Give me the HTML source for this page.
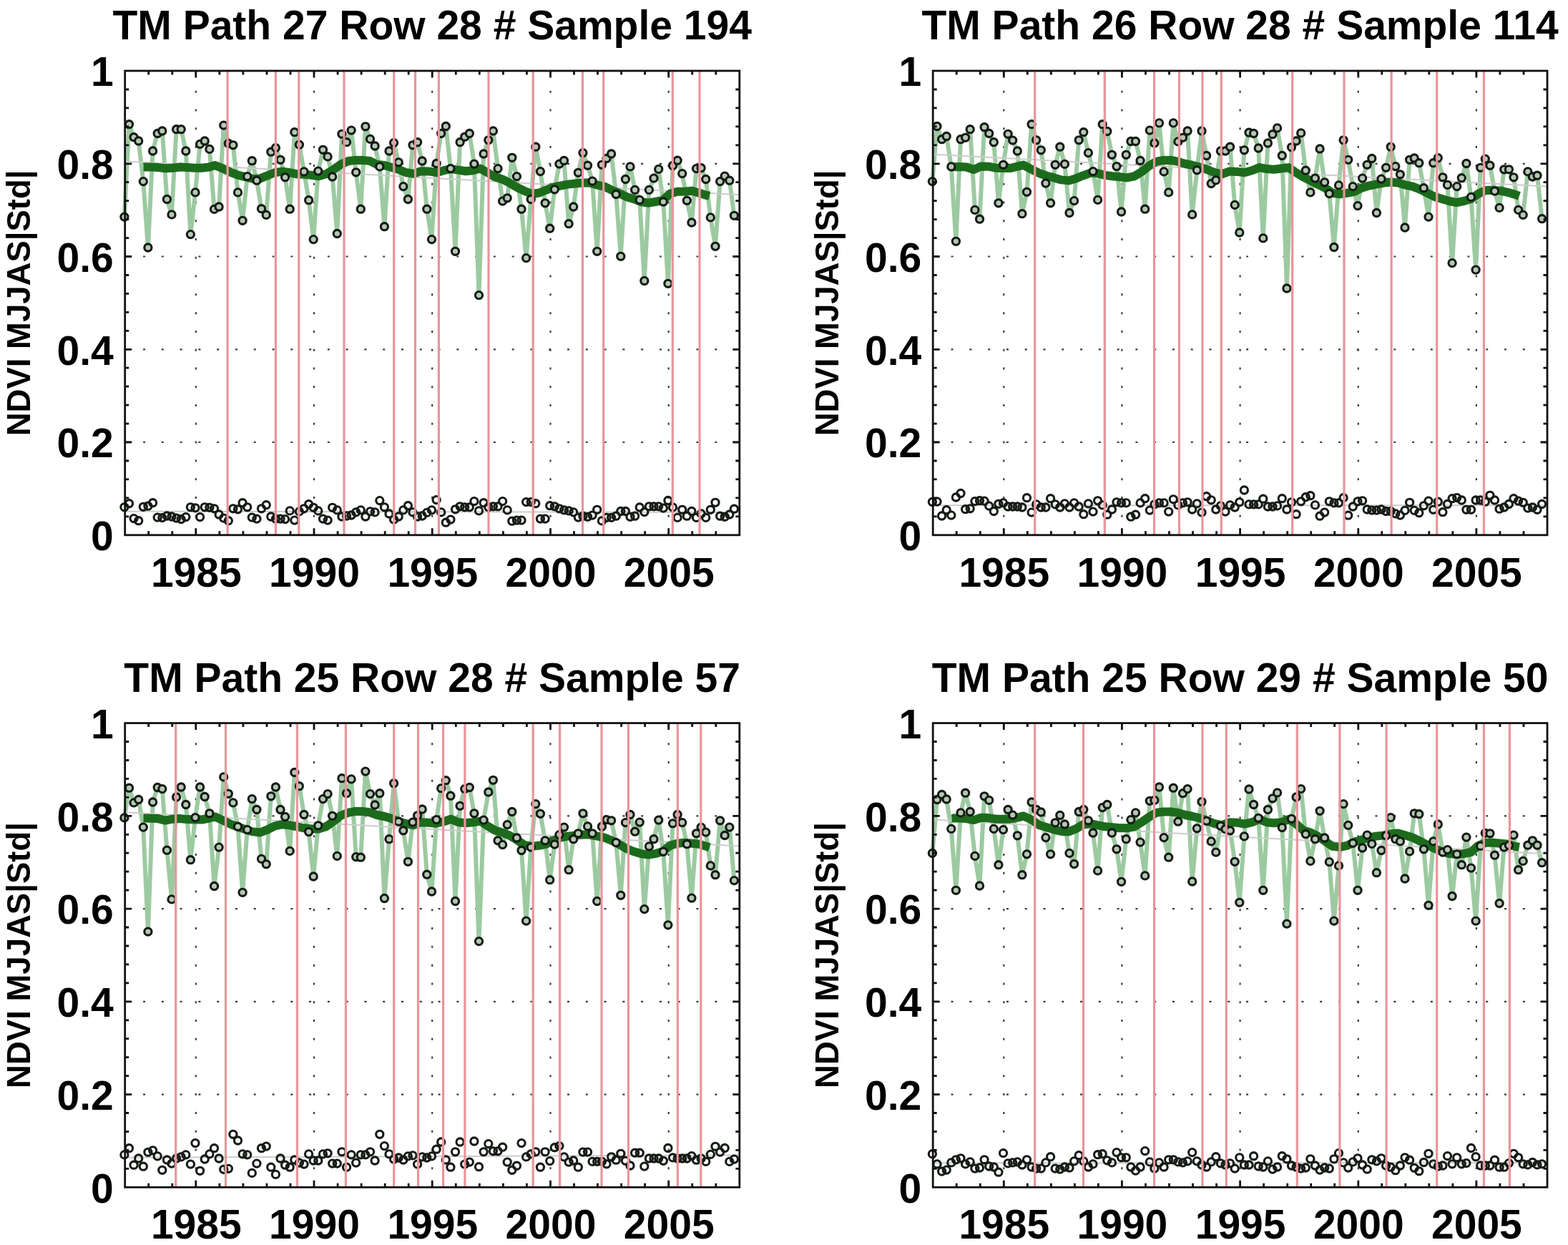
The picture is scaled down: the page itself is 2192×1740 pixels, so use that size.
<!DOCTYPE html>
<html><head><meta charset="utf-8"><title>NDVI MJJAS time series</title>
<style>html,body{margin:0;padding:0;background:#fff;overflow:hidden}svg{display:block;filter:blur(0.45px)}
text{font-family:"Liberation Sans",Arial,Helvetica,sans-serif;font-weight:bold;fill:#000}</style></head>
<body><svg xmlns="http://www.w3.org/2000/svg" width="2192" height="1740" viewBox="0 0 2192 1740">
<rect width="2192" height="1740" fill="#fff"/>
<g stroke="#3a3a3a" stroke-width="2.2" stroke-dasharray="3 22.78" stroke-dashoffset="0.7"><line x1="273.8" y1="747.8" x2="273.8" y2="99.0"/><line x1="439.0" y1="747.8" x2="439.0" y2="99.0"/><line x1="604.2" y1="747.8" x2="604.2" y2="99.0"/><line x1="769.5" y1="747.8" x2="769.5" y2="99.0"/><line x1="934.7" y1="747.8" x2="934.7" y2="99.0"/></g>
<g stroke="#3a3a3a" stroke-width="2.2" stroke-dasharray="3 22.78" stroke-dashoffset="0.4"><line x1="174.7" y1="618.0" x2="1033.8" y2="618.0"/><line x1="174.7" y1="488.3" x2="1033.8" y2="488.3"/><line x1="174.7" y1="358.5" x2="1033.8" y2="358.5"/><line x1="174.7" y1="228.8" x2="1033.8" y2="228.8"/></g>
<polyline points="173.9,303.1 180.5,173.7 187.1,191.7 193.7,197.0 200.3,253.6 206.9,346.0 213.6,211.0 220.2,186.5 226.8,183.0 233.4,278.5 240.0,299.9 246.6,180.7 253.2,180.7 259.8,211.0 266.4,327.6 273.0,268.9 279.6,201.4 286.2,197.0 292.9,208.4 299.5,292.4 306.1,289.0 312.7,175.1 319.3,200.5 325.9,202.8 332.5,268.9 339.1,308.3 345.7,246.6 352.3,224.7 358.9,252.2 365.5,291.7 372.2,300.4 378.8,212.2 385.4,206.6 392.0,223.3 398.6,247.8 405.2,292.2 411.8,184.7 418.4,202.2 425.0,239.9 431.6,279.7 438.2,334.6 444.8,239.1 451.5,209.3 458.1,218.9 464.7,247.0 471.3,326.5 477.9,187.3 484.5,198.7 491.1,182.1 497.7,240.8 504.3,292.2 510.9,176.8 517.5,194.4 524.1,204.0 530.8,232.9 537.4,316.7 544.0,211.0 550.6,199.6 557.2,226.8 563.8,260.6 570.4,278.5 577.0,202.8 583.6,198.7 590.2,225.0 596.8,292.2 603.5,334.6 610.1,228.5 616.7,186.5 623.3,176.5 629.9,235.6 636.5,351.3 643.1,198.7 649.7,191.3 656.3,186.5 662.9,229.1 669.5,412.6 676.1,215.0 682.8,195.8 689.4,183.0 696.0,235.6 702.6,281.1 709.2,276.8 715.8,220.3 722.4,246.6 729.0,292.2 735.6,360.6 742.2,278.5 748.8,205.2 755.4,239.6 762.1,283.8 768.7,319.2 775.3,264.8 781.9,229.1 788.5,224.5 795.1,312.7 801.7,289.0 808.3,241.3 814.9,213.6 821.5,231.2 828.1,253.1 834.7,351.3 841.4,230.3 848.0,221.5 854.6,215.0 861.2,271.5 867.8,358.3 874.4,250.5 881.0,232.9 887.6,265.4 894.2,279.4 900.8,392.5 907.4,265.4 914.0,249.1 920.7,236.4 927.3,282.0 933.9,396.3 940.5,231.5 947.1,224.2 953.7,242.6 960.3,280.3 966.9,311.0 973.5,235.6 980.1,234.7 986.7,250.5 993.3,303.9 1000.0,344.3 1006.6,253.6 1013.2,246.1 1019.8,252.2 1026.4,301.3" fill="none" stroke="#9ccaa0" stroke-width="6" stroke-linejoin="round"/>
<line x1="174.7" y1="225.5" x2="1033.8" y2="272.2" stroke="#cccccc" stroke-width="2"/>
<line x1="174.7" y1="714.7" x2="1033.8" y2="716.0" stroke="#cccccc" stroke-width="2"/>
<polyline points="200.6,233.5 210.8,233.5 221.0,234.1 231.2,235.3 241.4,234.7 251.6,233.5 261.8,234.1 272.0,234.7 282.2,234.7 292.4,233.5 300.6,231.0 312.9,236.1 323.1,241.2 333.3,244.9 343.5,247.3 353.7,250.0 363.9,249.4 374.1,245.3 384.3,241.2 394.5,239.6 404.7,241.2 414.9,243.3 425.1,243.7 435.3,244.9 445.5,246.3 455.7,243.3 465.9,237.1 476.1,230.0 486.3,225.3 496.5,223.9 506.7,223.9 516.9,224.9 527.1,230.0 537.3,231.0 547.6,234.1 557.8,237.1 568.0,241.2 578.2,242.9 588.4,239.2 599.3,239.4 610.2,241.2 620.4,238.2 630.6,236.1 640.8,237.6 651.0,239.2 661.2,238.2 671.4,235.5 681.6,241.2 691.8,247.3 702.0,250.4 712.2,255.5 722.4,261.6 732.7,266.7 742.9,270.8 753.1,269.8 763.3,265.7 773.5,261.6 783.7,259.6 793.9,257.6 804.1,256.5 814.3,255.5 824.5,255.5 834.7,258.6 844.9,260.6 855.1,265.7 865.3,269.8 875.5,274.9 885.7,278.0 895.9,282.0 906.1,283.7 916.3,282.0 926.5,280.0 936.7,270.8 946.9,267.8 957.1,267.8 967.3,266.7 977.6,269.8 987.8,272.9 991.8,273.9" fill="none" stroke="#1c6b1c" stroke-width="12" stroke-linejoin="round" stroke-linecap="butt"/>
<g fill="#b4c8b4" stroke="#151a15" stroke-width="3.1"><circle cx="173.9" cy="303.1" r="5.1"/><circle cx="180.5" cy="173.7" r="5.1"/><circle cx="187.1" cy="191.7" r="5.1"/><circle cx="193.7" cy="197.0" r="5.1"/><circle cx="200.3" cy="253.6" r="5.1"/><circle cx="206.9" cy="346.0" r="5.1"/><circle cx="213.6" cy="211.0" r="5.1"/><circle cx="220.2" cy="186.5" r="5.1"/><circle cx="226.8" cy="183.0" r="5.1"/><circle cx="233.4" cy="278.5" r="5.1"/><circle cx="240.0" cy="299.9" r="5.1"/><circle cx="246.6" cy="180.7" r="5.1"/><circle cx="253.2" cy="180.7" r="5.1"/><circle cx="259.8" cy="211.0" r="5.1"/><circle cx="266.4" cy="327.6" r="5.1"/><circle cx="273.0" cy="268.9" r="5.1"/><circle cx="279.6" cy="201.4" r="5.1"/><circle cx="286.2" cy="197.0" r="5.1"/><circle cx="292.9" cy="208.4" r="5.1"/><circle cx="299.5" cy="292.4" r="5.1"/><circle cx="306.1" cy="289.0" r="5.1"/><circle cx="312.7" cy="175.1" r="5.1"/><circle cx="319.3" cy="200.5" r="5.1"/><circle cx="325.9" cy="202.8" r="5.1"/><circle cx="332.5" cy="268.9" r="5.1"/><circle cx="339.1" cy="308.3" r="5.1"/><circle cx="345.7" cy="246.6" r="5.1"/><circle cx="352.3" cy="224.7" r="5.1"/><circle cx="358.9" cy="252.2" r="5.1"/><circle cx="365.5" cy="291.7" r="5.1"/><circle cx="372.2" cy="300.4" r="5.1"/><circle cx="378.8" cy="212.2" r="5.1"/><circle cx="385.4" cy="206.6" r="5.1"/><circle cx="392.0" cy="223.3" r="5.1"/><circle cx="398.6" cy="247.8" r="5.1"/><circle cx="405.2" cy="292.2" r="5.1"/><circle cx="411.8" cy="184.7" r="5.1"/><circle cx="418.4" cy="202.2" r="5.1"/><circle cx="425.0" cy="239.9" r="5.1"/><circle cx="431.6" cy="279.7" r="5.1"/><circle cx="438.2" cy="334.6" r="5.1"/><circle cx="444.8" cy="239.1" r="5.1"/><circle cx="451.5" cy="209.3" r="5.1"/><circle cx="458.1" cy="218.9" r="5.1"/><circle cx="464.7" cy="247.0" r="5.1"/><circle cx="471.3" cy="326.5" r="5.1"/><circle cx="477.9" cy="187.3" r="5.1"/><circle cx="484.5" cy="198.7" r="5.1"/><circle cx="491.1" cy="182.1" r="5.1"/><circle cx="497.7" cy="240.8" r="5.1"/><circle cx="504.3" cy="292.2" r="5.1"/><circle cx="510.9" cy="176.8" r="5.1"/><circle cx="517.5" cy="194.4" r="5.1"/><circle cx="524.1" cy="204.0" r="5.1"/><circle cx="530.8" cy="232.9" r="5.1"/><circle cx="537.4" cy="316.7" r="5.1"/><circle cx="544.0" cy="211.0" r="5.1"/><circle cx="550.6" cy="199.6" r="5.1"/><circle cx="557.2" cy="226.8" r="5.1"/><circle cx="563.8" cy="260.6" r="5.1"/><circle cx="570.4" cy="278.5" r="5.1"/><circle cx="577.0" cy="202.8" r="5.1"/><circle cx="583.6" cy="198.7" r="5.1"/><circle cx="590.2" cy="225.0" r="5.1"/><circle cx="596.8" cy="292.2" r="5.1"/><circle cx="603.5" cy="334.6" r="5.1"/><circle cx="610.1" cy="228.5" r="5.1"/><circle cx="616.7" cy="186.5" r="5.1"/><circle cx="623.3" cy="176.5" r="5.1"/><circle cx="629.9" cy="235.6" r="5.1"/><circle cx="636.5" cy="351.3" r="5.1"/><circle cx="643.1" cy="198.7" r="5.1"/><circle cx="649.7" cy="191.3" r="5.1"/><circle cx="656.3" cy="186.5" r="5.1"/><circle cx="662.9" cy="229.1" r="5.1"/><circle cx="669.5" cy="412.6" r="5.1"/><circle cx="676.1" cy="215.0" r="5.1"/><circle cx="682.8" cy="195.8" r="5.1"/><circle cx="689.4" cy="183.0" r="5.1"/><circle cx="696.0" cy="235.6" r="5.1"/><circle cx="702.6" cy="281.1" r="5.1"/><circle cx="709.2" cy="276.8" r="5.1"/><circle cx="715.8" cy="220.3" r="5.1"/><circle cx="722.4" cy="246.6" r="5.1"/><circle cx="729.0" cy="292.2" r="5.1"/><circle cx="735.6" cy="360.6" r="5.1"/><circle cx="742.2" cy="278.5" r="5.1"/><circle cx="748.8" cy="205.2" r="5.1"/><circle cx="755.4" cy="239.6" r="5.1"/><circle cx="762.1" cy="283.8" r="5.1"/><circle cx="768.7" cy="319.2" r="5.1"/><circle cx="775.3" cy="264.8" r="5.1"/><circle cx="781.9" cy="229.1" r="5.1"/><circle cx="788.5" cy="224.5" r="5.1"/><circle cx="795.1" cy="312.7" r="5.1"/><circle cx="801.7" cy="289.0" r="5.1"/><circle cx="808.3" cy="241.3" r="5.1"/><circle cx="814.9" cy="213.6" r="5.1"/><circle cx="821.5" cy="231.2" r="5.1"/><circle cx="828.1" cy="253.1" r="5.1"/><circle cx="834.7" cy="351.3" r="5.1"/><circle cx="841.4" cy="230.3" r="5.1"/><circle cx="848.0" cy="221.5" r="5.1"/><circle cx="854.6" cy="215.0" r="5.1"/><circle cx="861.2" cy="271.5" r="5.1"/><circle cx="867.8" cy="358.3" r="5.1"/><circle cx="874.4" cy="250.5" r="5.1"/><circle cx="881.0" cy="232.9" r="5.1"/><circle cx="887.6" cy="265.4" r="5.1"/><circle cx="894.2" cy="279.4" r="5.1"/><circle cx="900.8" cy="392.5" r="5.1"/><circle cx="907.4" cy="265.4" r="5.1"/><circle cx="914.0" cy="249.1" r="5.1"/><circle cx="920.7" cy="236.4" r="5.1"/><circle cx="927.3" cy="282.0" r="5.1"/><circle cx="933.9" cy="396.3" r="5.1"/><circle cx="940.5" cy="231.5" r="5.1"/><circle cx="947.1" cy="224.2" r="5.1"/><circle cx="953.7" cy="242.6" r="5.1"/><circle cx="960.3" cy="280.3" r="5.1"/><circle cx="966.9" cy="311.0" r="5.1"/><circle cx="973.5" cy="235.6" r="5.1"/><circle cx="980.1" cy="234.7" r="5.1"/><circle cx="986.7" cy="250.5" r="5.1"/><circle cx="993.3" cy="303.9" r="5.1"/><circle cx="1000.0" cy="344.3" r="5.1"/><circle cx="1006.6" cy="253.6" r="5.1"/><circle cx="1013.2" cy="246.1" r="5.1"/><circle cx="1019.8" cy="252.2" r="5.1"/><circle cx="1026.4" cy="301.3" r="5.1"/></g>
<g fill="none" stroke="#151a15" stroke-width="3.1"><circle cx="173.9" cy="708.8" r="5.1"/><circle cx="180.5" cy="703.7" r="5.1"/><circle cx="187.1" cy="724.6" r="5.1"/><circle cx="193.7" cy="727.7" r="5.1"/><circle cx="200.3" cy="708.3" r="5.1"/><circle cx="206.9" cy="707.2" r="5.1"/><circle cx="213.6" cy="702.7" r="5.1"/><circle cx="220.2" cy="723.1" r="5.1"/><circle cx="226.8" cy="723.6" r="5.1"/><circle cx="233.4" cy="721.0" r="5.1"/><circle cx="240.0" cy="722.0" r="5.1"/><circle cx="246.6" cy="724.1" r="5.1"/><circle cx="253.2" cy="725.6" r="5.1"/><circle cx="259.8" cy="722.6" r="5.1"/><circle cx="266.4" cy="708.8" r="5.1"/><circle cx="273.0" cy="709.8" r="5.1"/><circle cx="279.6" cy="722.6" r="5.1"/><circle cx="286.2" cy="708.8" r="5.1"/><circle cx="292.9" cy="709.3" r="5.1"/><circle cx="299.5" cy="710.8" r="5.1"/><circle cx="306.1" cy="719.0" r="5.1"/><circle cx="312.7" cy="724.1" r="5.1"/><circle cx="319.3" cy="727.7" r="5.1"/><circle cx="325.9" cy="710.8" r="5.1"/><circle cx="332.5" cy="711.8" r="5.1"/><circle cx="339.1" cy="702.7" r="5.1"/><circle cx="345.7" cy="708.8" r="5.1"/><circle cx="352.3" cy="723.1" r="5.1"/><circle cx="358.9" cy="725.1" r="5.1"/><circle cx="365.5" cy="710.8" r="5.1"/><circle cx="372.2" cy="705.7" r="5.1"/><circle cx="378.8" cy="722.0" r="5.1"/><circle cx="385.4" cy="725.1" r="5.1"/><circle cx="392.0" cy="725.1" r="5.1"/><circle cx="398.6" cy="725.6" r="5.1"/><circle cx="405.2" cy="713.9" r="5.1"/><circle cx="411.8" cy="727.1" r="5.1"/><circle cx="418.4" cy="714.9" r="5.1"/><circle cx="425.0" cy="710.8" r="5.1"/><circle cx="431.6" cy="704.7" r="5.1"/><circle cx="438.2" cy="709.3" r="5.1"/><circle cx="444.8" cy="713.9" r="5.1"/><circle cx="451.5" cy="725.1" r="5.1"/><circle cx="458.1" cy="727.1" r="5.1"/><circle cx="464.7" cy="709.3" r="5.1"/><circle cx="471.3" cy="712.9" r="5.1"/><circle cx="477.9" cy="722.0" r="5.1"/><circle cx="484.5" cy="721.0" r="5.1"/><circle cx="491.1" cy="720.0" r="5.1"/><circle cx="497.7" cy="715.9" r="5.1"/><circle cx="504.3" cy="712.9" r="5.1"/><circle cx="510.9" cy="722.0" r="5.1"/><circle cx="517.5" cy="714.9" r="5.1"/><circle cx="524.1" cy="715.9" r="5.1"/><circle cx="530.8" cy="699.6" r="5.1"/><circle cx="537.4" cy="708.8" r="5.1"/><circle cx="544.0" cy="718.0" r="5.1"/><circle cx="550.6" cy="726.1" r="5.1"/><circle cx="557.2" cy="722.0" r="5.1"/><circle cx="563.8" cy="712.9" r="5.1"/><circle cx="570.4" cy="706.7" r="5.1"/><circle cx="577.0" cy="715.9" r="5.1"/><circle cx="583.6" cy="722.0" r="5.1"/><circle cx="590.2" cy="721.0" r="5.1"/><circle cx="596.8" cy="716.4" r="5.1"/><circle cx="603.5" cy="712.9" r="5.1"/><circle cx="610.1" cy="698.6" r="5.1"/><circle cx="616.7" cy="715.9" r="5.1"/><circle cx="623.3" cy="730.2" r="5.1"/><circle cx="629.9" cy="726.1" r="5.1"/><circle cx="636.5" cy="711.8" r="5.1"/><circle cx="643.1" cy="707.8" r="5.1"/><circle cx="649.7" cy="708.8" r="5.1"/><circle cx="656.3" cy="708.8" r="5.1"/><circle cx="662.9" cy="700.6" r="5.1"/><circle cx="669.5" cy="713.9" r="5.1"/><circle cx="676.1" cy="702.7" r="5.1"/><circle cx="682.8" cy="708.8" r="5.1"/><circle cx="689.4" cy="707.8" r="5.1"/><circle cx="696.0" cy="707.8" r="5.1"/><circle cx="702.6" cy="700.6" r="5.1"/><circle cx="709.2" cy="712.9" r="5.1"/><circle cx="715.8" cy="728.2" r="5.1"/><circle cx="722.4" cy="727.1" r="5.1"/><circle cx="729.0" cy="727.1" r="5.1"/><circle cx="735.6" cy="701.6" r="5.1"/><circle cx="742.2" cy="701.6" r="5.1"/><circle cx="748.8" cy="703.7" r="5.1"/><circle cx="755.4" cy="725.1" r="5.1"/><circle cx="762.1" cy="725.1" r="5.1"/><circle cx="768.7" cy="706.7" r="5.1"/><circle cx="775.3" cy="707.8" r="5.1"/><circle cx="781.9" cy="710.8" r="5.1"/><circle cx="788.5" cy="712.9" r="5.1"/><circle cx="795.1" cy="713.9" r="5.1"/><circle cx="801.7" cy="715.9" r="5.1"/><circle cx="808.3" cy="723.1" r="5.1"/><circle cx="814.9" cy="721.2" r="5.1"/><circle cx="821.5" cy="722.3" r="5.1"/><circle cx="828.1" cy="720.1" r="5.1"/><circle cx="834.7" cy="712.3" r="5.1"/><circle cx="841.4" cy="727.9" r="5.1"/><circle cx="848.0" cy="723.4" r="5.1"/><circle cx="854.6" cy="723.4" r="5.1"/><circle cx="861.2" cy="721.2" r="5.1"/><circle cx="867.8" cy="714.5" r="5.1"/><circle cx="874.4" cy="714.5" r="5.1"/><circle cx="881.0" cy="722.3" r="5.1"/><circle cx="887.6" cy="721.2" r="5.1"/><circle cx="894.2" cy="709.0" r="5.1"/><circle cx="900.8" cy="715.6" r="5.1"/><circle cx="907.4" cy="707.8" r="5.1"/><circle cx="914.0" cy="707.8" r="5.1"/><circle cx="920.7" cy="707.8" r="5.1"/><circle cx="927.3" cy="710.1" r="5.1"/><circle cx="933.9" cy="699.5" r="5.1"/><circle cx="940.5" cy="709.0" r="5.1"/><circle cx="947.1" cy="723.4" r="5.1"/><circle cx="953.7" cy="712.3" r="5.1"/><circle cx="960.3" cy="721.2" r="5.1"/><circle cx="966.9" cy="714.5" r="5.1"/><circle cx="973.5" cy="723.4" r="5.1"/><circle cx="980.1" cy="717.9" r="5.1"/><circle cx="986.7" cy="723.4" r="5.1"/><circle cx="993.3" cy="712.3" r="5.1"/><circle cx="1000.0" cy="702.3" r="5.1"/><circle cx="1006.6" cy="721.2" r="5.1"/><circle cx="1013.2" cy="722.3" r="5.1"/><circle cx="1019.8" cy="719.0" r="5.1"/><circle cx="1026.4" cy="711.2" r="5.1"/></g>
<g stroke="#e8959c" stroke-width="3.2"><line x1="318.1" y1="99.0" x2="318.1" y2="747.8"/><line x1="385.4" y1="99.0" x2="385.4" y2="747.8"/><line x1="417.8" y1="99.0" x2="417.8" y2="747.8"/><line x1="481.0" y1="99.0" x2="481.0" y2="747.8"/><line x1="550.7" y1="99.0" x2="550.7" y2="747.8"/><line x1="580.5" y1="99.0" x2="580.5" y2="747.8"/><line x1="613.4" y1="99.0" x2="613.4" y2="747.8"/><line x1="683.0" y1="99.0" x2="683.0" y2="747.8"/><line x1="745.2" y1="99.0" x2="745.2" y2="747.8"/><line x1="814.5" y1="99.0" x2="814.5" y2="747.8"/><line x1="843.7" y1="99.0" x2="843.7" y2="747.8"/><line x1="940.3" y1="99.0" x2="940.3" y2="747.8"/><line x1="978.0" y1="99.0" x2="978.0" y2="747.8"/></g>
<path d="M207.7 747.8v-5.5M207.7 99.0v5.5M240.8 747.8v-5.5M240.8 99.0v5.5M273.8 747.8v-9.5M273.8 99.0v9.5M306.9 747.8v-5.5M306.9 99.0v5.5M339.9 747.8v-5.5M339.9 99.0v5.5M373.0 747.8v-5.5M373.0 99.0v5.5M406.0 747.8v-5.5M406.0 99.0v5.5M439.0 747.8v-9.5M439.0 99.0v9.5M472.1 747.8v-5.5M472.1 99.0v5.5M505.1 747.8v-5.5M505.1 99.0v5.5M538.2 747.8v-5.5M538.2 99.0v5.5M571.2 747.8v-5.5M571.2 99.0v5.5M604.2 747.8v-9.5M604.2 99.0v9.5M637.3 747.8v-5.5M637.3 99.0v5.5M670.3 747.8v-5.5M670.3 99.0v5.5M703.4 747.8v-5.5M703.4 99.0v5.5M736.4 747.8v-5.5M736.4 99.0v5.5M769.5 747.8v-9.5M769.5 99.0v9.5M802.5 747.8v-5.5M802.5 99.0v5.5M835.5 747.8v-5.5M835.5 99.0v5.5M868.6 747.8v-5.5M868.6 99.0v5.5M901.6 747.8v-5.5M901.6 99.0v5.5M934.7 747.8v-9.5M934.7 99.0v9.5M967.7 747.8v-5.5M967.7 99.0v5.5M1000.8 747.8v-5.5M1000.8 99.0v5.5M174.7 721.8h5.5M1033.8 721.8h-5.5M174.7 695.9h5.5M1033.8 695.9h-5.5M174.7 669.9h5.5M1033.8 669.9h-5.5M174.7 644.0h5.5M1033.8 644.0h-5.5M174.7 618.0h9.5M1033.8 618.0h-9.5M174.7 592.1h5.5M1033.8 592.1h-5.5M174.7 566.1h5.5M1033.8 566.1h-5.5M174.7 540.2h5.5M1033.8 540.2h-5.5M174.7 514.2h5.5M1033.8 514.2h-5.5M174.7 488.3h9.5M1033.8 488.3h-9.5M174.7 462.3h5.5M1033.8 462.3h-5.5M174.7 436.4h5.5M1033.8 436.4h-5.5M174.7 410.4h5.5M1033.8 410.4h-5.5M174.7 384.5h5.5M1033.8 384.5h-5.5M174.7 358.5h9.5M1033.8 358.5h-9.5M174.7 332.6h5.5M1033.8 332.6h-5.5M174.7 306.6h5.5M1033.8 306.6h-5.5M174.7 280.7h5.5M1033.8 280.7h-5.5M174.7 254.7h5.5M1033.8 254.7h-5.5M174.7 228.8h9.5M1033.8 228.8h-9.5M174.7 202.8h5.5M1033.8 202.8h-5.5M174.7 176.9h5.5M1033.8 176.9h-5.5M174.7 150.9h5.5M1033.8 150.9h-5.5M174.7 125.0h5.5M1033.8 125.0h-5.5" stroke="#111" stroke-width="2.8" fill="none"/>
<rect x="174.7" y="99.0" width="859.1" height="648.8" fill="none" stroke="#111" stroke-width="2.8"/>
<g font-size="57"><text x="158.7" y="769.1" text-anchor="end">0</text><text x="158.7" y="639.3" text-anchor="end">0.2</text><text x="158.7" y="509.6" text-anchor="end">0.4</text><text x="158.7" y="379.8" text-anchor="end">0.6</text><text x="158.7" y="250.1" text-anchor="end">0.8</text><text x="158.7" y="120.3" text-anchor="end">1</text><text x="274.3" y="819.8" text-anchor="middle">1985</text><text x="439.5" y="819.8" text-anchor="middle">1990</text><text x="604.8" y="819.8" text-anchor="middle">1995</text><text x="770.0" y="819.8" text-anchor="middle">2000</text><text x="935.2" y="819.8" text-anchor="middle">2005</text></g>
<text x="604.2" y="55.0" text-anchor="middle" font-size="57">TM Path 27 Row 28 # Sample 194</text>
<text transform="translate(42.3,423.4) rotate(-90)" text-anchor="middle" font-size="45.5">NDVI MJJAS|Std|</text>
<g stroke="#3a3a3a" stroke-width="2.2" stroke-dasharray="3 22.78" stroke-dashoffset="0.7"><line x1="1403.3" y1="747.8" x2="1403.3" y2="99.0"/><line x1="1568.4" y1="747.8" x2="1568.4" y2="99.0"/><line x1="1733.6" y1="747.8" x2="1733.6" y2="99.0"/><line x1="1898.8" y1="747.8" x2="1898.8" y2="99.0"/><line x1="2063.9" y1="747.8" x2="2063.9" y2="99.0"/></g>
<g stroke="#3a3a3a" stroke-width="2.2" stroke-dasharray="3 22.78" stroke-dashoffset="0.4"><line x1="1304.2" y1="618.0" x2="2163.0" y2="618.0"/><line x1="1304.2" y1="488.3" x2="2163.0" y2="488.3"/><line x1="1304.2" y1="358.5" x2="2163.0" y2="358.5"/><line x1="1304.2" y1="228.8" x2="2163.0" y2="228.8"/></g>
<polyline points="1303.4,253.6 1310.0,176.5 1316.6,194.7 1323.2,190.5 1329.8,232.9 1336.4,337.3 1343.0,194.7 1349.6,192.3 1356.2,180.7 1362.9,293.4 1369.5,306.2 1376.1,177.7 1382.7,186.5 1389.3,198.7 1395.9,283.8 1402.5,230.3 1409.1,187.3 1415.7,196.1 1422.3,211.0 1428.9,298.7 1435.5,268.3 1442.1,173.7 1448.7,195.8 1455.3,209.8 1461.9,256.1 1468.6,283.8 1475.2,230.3 1481.8,205.2 1488.4,229.4 1495.0,297.5 1501.6,280.6 1508.2,195.8 1514.8,184.7 1521.4,213.6 1528.0,239.6 1534.6,279.4 1541.2,173.7 1547.8,183.5 1554.4,216.3 1561.0,232.6 1567.6,296.0 1574.3,216.3 1580.9,197.5 1587.5,197.5 1594.1,224.5 1600.7,292.2 1607.3,182.1 1613.9,200.0 1620.5,171.9 1627.1,239.9 1633.7,268.9 1640.3,171.9 1646.9,197.9 1653.5,192.3 1660.1,183.0 1666.7,299.9 1673.3,237.8 1680.0,183.0 1686.6,217.5 1693.2,256.6 1699.8,251.9 1706.4,211.0 1713.0,211.0 1719.6,205.2 1726.2,286.4 1732.8,325.0 1739.4,209.8 1746.0,185.2 1752.6,186.5 1759.2,207.0 1765.8,332.9 1772.4,200.0 1779.0,187.7 1785.6,178.9 1792.3,217.5 1798.9,403.0 1805.5,205.8 1812.1,197.0 1818.7,185.9 1825.3,238.2 1831.9,268.9 1838.5,249.1 1845.1,208.0 1851.7,254.8 1858.3,270.6 1864.9,345.5 1871.5,258.9 1878.1,195.8 1884.7,223.3 1891.3,260.6 1898.0,287.6 1904.6,249.1 1911.2,230.3 1917.8,221.5 1924.4,297.5 1931.0,250.1 1937.6,234.3 1944.2,205.2 1950.8,232.6 1957.4,243.8 1964.0,318.0 1970.6,223.3 1977.2,221.0 1983.8,227.7 1990.4,262.7 1997.0,303.1 2003.7,227.7 2010.3,220.7 2016.9,247.8 2023.5,258.4 2030.1,367.6 2036.7,260.6 2043.3,248.7 2049.9,228.5 2056.5,275.4 2063.1,377.1 2069.7,234.3 2076.3,222.1 2082.9,231.2 2089.5,267.1 2096.1,290.4 2102.7,236.8 2109.4,236.8 2116.0,247.8 2122.6,293.4 2129.2,300.4 2135.8,239.9 2142.4,247.0 2149.0,245.2 2155.6,305.7" fill="none" stroke="#9ccaa0" stroke-width="6" stroke-linejoin="round"/>
<line x1="1304.2" y1="215.8" x2="2163.0" y2="260.6" stroke="#cccccc" stroke-width="2"/>
<line x1="1304.2" y1="706.3" x2="2163.0" y2="706.3" stroke="#cccccc" stroke-width="2"/>
<polyline points="1328.6,233.5 1340.8,233.1 1351.0,233.5 1361.2,237.1 1371.4,232.4 1381.6,232.7 1391.8,234.7 1402.0,235.1 1412.2,235.1 1422.4,232.7 1430.6,230.6 1442.9,237.1 1453.1,242.2 1463.3,245.7 1473.5,248.4 1483.7,251.4 1493.9,252.4 1504.1,249.4 1514.3,245.3 1524.5,241.6 1534.7,242.2 1544.9,244.9 1555.1,246.3 1565.3,247.3 1575.5,248.4 1585.7,246.3 1595.9,240.2 1606.1,232.0 1616.3,225.9 1626.5,223.9 1636.7,223.9 1646.9,225.9 1657.1,229.0 1667.3,231.0 1677.6,233.5 1687.8,237.1 1698.0,241.2 1708.2,243.3 1718.4,239.6 1729.3,239.9 1739.5,241.2 1750.4,238.2 1760.6,234.1 1770.8,236.1 1781.0,236.7 1791.2,235.5 1801.4,234.1 1811.6,241.2 1821.8,247.3 1832.0,252.4 1842.2,257.6 1852.4,262.7 1862.7,269.8 1872.9,271.4 1883.1,269.8 1893.3,267.8 1903.5,262.7 1913.7,259.6 1923.9,257.6 1934.1,255.5 1944.3,254.5 1954.5,255.5 1964.7,258.6 1974.9,260.6 1985.1,264.7 1995.3,269.8 2005.5,274.9 2015.7,278.0 2025.9,281.0 2036.1,283.1 2046.3,281.0 2056.5,278.0 2066.7,270.8 2076.9,266.1 2087.1,265.7 2097.3,266.7 2107.6,268.8 2117.8,271.8 2123.9,273.9" fill="none" stroke="#1c6b1c" stroke-width="12" stroke-linejoin="round" stroke-linecap="butt"/>
<g fill="#b4c8b4" stroke="#151a15" stroke-width="3.1"><circle cx="1303.4" cy="253.6" r="5.1"/><circle cx="1310.0" cy="176.5" r="5.1"/><circle cx="1316.6" cy="194.7" r="5.1"/><circle cx="1323.2" cy="190.5" r="5.1"/><circle cx="1329.8" cy="232.9" r="5.1"/><circle cx="1336.4" cy="337.3" r="5.1"/><circle cx="1343.0" cy="194.7" r="5.1"/><circle cx="1349.6" cy="192.3" r="5.1"/><circle cx="1356.2" cy="180.7" r="5.1"/><circle cx="1362.9" cy="293.4" r="5.1"/><circle cx="1369.5" cy="306.2" r="5.1"/><circle cx="1376.1" cy="177.7" r="5.1"/><circle cx="1382.7" cy="186.5" r="5.1"/><circle cx="1389.3" cy="198.7" r="5.1"/><circle cx="1395.9" cy="283.8" r="5.1"/><circle cx="1402.5" cy="230.3" r="5.1"/><circle cx="1409.1" cy="187.3" r="5.1"/><circle cx="1415.7" cy="196.1" r="5.1"/><circle cx="1422.3" cy="211.0" r="5.1"/><circle cx="1428.9" cy="298.7" r="5.1"/><circle cx="1435.5" cy="268.3" r="5.1"/><circle cx="1442.1" cy="173.7" r="5.1"/><circle cx="1448.7" cy="195.8" r="5.1"/><circle cx="1455.3" cy="209.8" r="5.1"/><circle cx="1461.9" cy="256.1" r="5.1"/><circle cx="1468.6" cy="283.8" r="5.1"/><circle cx="1475.2" cy="230.3" r="5.1"/><circle cx="1481.8" cy="205.2" r="5.1"/><circle cx="1488.4" cy="229.4" r="5.1"/><circle cx="1495.0" cy="297.5" r="5.1"/><circle cx="1501.6" cy="280.6" r="5.1"/><circle cx="1508.2" cy="195.8" r="5.1"/><circle cx="1514.8" cy="184.7" r="5.1"/><circle cx="1521.4" cy="213.6" r="5.1"/><circle cx="1528.0" cy="239.6" r="5.1"/><circle cx="1534.6" cy="279.4" r="5.1"/><circle cx="1541.2" cy="173.7" r="5.1"/><circle cx="1547.8" cy="183.5" r="5.1"/><circle cx="1554.4" cy="216.3" r="5.1"/><circle cx="1561.0" cy="232.6" r="5.1"/><circle cx="1567.6" cy="296.0" r="5.1"/><circle cx="1574.3" cy="216.3" r="5.1"/><circle cx="1580.9" cy="197.5" r="5.1"/><circle cx="1587.5" cy="197.5" r="5.1"/><circle cx="1594.1" cy="224.5" r="5.1"/><circle cx="1600.7" cy="292.2" r="5.1"/><circle cx="1607.3" cy="182.1" r="5.1"/><circle cx="1613.9" cy="200.0" r="5.1"/><circle cx="1620.5" cy="171.9" r="5.1"/><circle cx="1627.1" cy="239.9" r="5.1"/><circle cx="1633.7" cy="268.9" r="5.1"/><circle cx="1640.3" cy="171.9" r="5.1"/><circle cx="1646.9" cy="197.9" r="5.1"/><circle cx="1653.5" cy="192.3" r="5.1"/><circle cx="1660.1" cy="183.0" r="5.1"/><circle cx="1666.7" cy="299.9" r="5.1"/><circle cx="1673.3" cy="237.8" r="5.1"/><circle cx="1680.0" cy="183.0" r="5.1"/><circle cx="1686.6" cy="217.5" r="5.1"/><circle cx="1693.2" cy="256.6" r="5.1"/><circle cx="1699.8" cy="251.9" r="5.1"/><circle cx="1706.4" cy="211.0" r="5.1"/><circle cx="1713.0" cy="211.0" r="5.1"/><circle cx="1719.6" cy="205.2" r="5.1"/><circle cx="1726.2" cy="286.4" r="5.1"/><circle cx="1732.8" cy="325.0" r="5.1"/><circle cx="1739.4" cy="209.8" r="5.1"/><circle cx="1746.0" cy="185.2" r="5.1"/><circle cx="1752.6" cy="186.5" r="5.1"/><circle cx="1759.2" cy="207.0" r="5.1"/><circle cx="1765.8" cy="332.9" r="5.1"/><circle cx="1772.4" cy="200.0" r="5.1"/><circle cx="1779.0" cy="187.7" r="5.1"/><circle cx="1785.6" cy="178.9" r="5.1"/><circle cx="1792.3" cy="217.5" r="5.1"/><circle cx="1798.9" cy="403.0" r="5.1"/><circle cx="1805.5" cy="205.8" r="5.1"/><circle cx="1812.1" cy="197.0" r="5.1"/><circle cx="1818.7" cy="185.9" r="5.1"/><circle cx="1825.3" cy="238.2" r="5.1"/><circle cx="1831.9" cy="268.9" r="5.1"/><circle cx="1838.5" cy="249.1" r="5.1"/><circle cx="1845.1" cy="208.0" r="5.1"/><circle cx="1851.7" cy="254.8" r="5.1"/><circle cx="1858.3" cy="270.6" r="5.1"/><circle cx="1864.9" cy="345.5" r="5.1"/><circle cx="1871.5" cy="258.9" r="5.1"/><circle cx="1878.1" cy="195.8" r="5.1"/><circle cx="1884.7" cy="223.3" r="5.1"/><circle cx="1891.3" cy="260.6" r="5.1"/><circle cx="1898.0" cy="287.6" r="5.1"/><circle cx="1904.6" cy="249.1" r="5.1"/><circle cx="1911.2" cy="230.3" r="5.1"/><circle cx="1917.8" cy="221.5" r="5.1"/><circle cx="1924.4" cy="297.5" r="5.1"/><circle cx="1931.0" cy="250.1" r="5.1"/><circle cx="1937.6" cy="234.3" r="5.1"/><circle cx="1944.2" cy="205.2" r="5.1"/><circle cx="1950.8" cy="232.6" r="5.1"/><circle cx="1957.4" cy="243.8" r="5.1"/><circle cx="1964.0" cy="318.0" r="5.1"/><circle cx="1970.6" cy="223.3" r="5.1"/><circle cx="1977.2" cy="221.0" r="5.1"/><circle cx="1983.8" cy="227.7" r="5.1"/><circle cx="1990.4" cy="262.7" r="5.1"/><circle cx="1997.0" cy="303.1" r="5.1"/><circle cx="2003.7" cy="227.7" r="5.1"/><circle cx="2010.3" cy="220.7" r="5.1"/><circle cx="2016.9" cy="247.8" r="5.1"/><circle cx="2023.5" cy="258.4" r="5.1"/><circle cx="2030.1" cy="367.6" r="5.1"/><circle cx="2036.7" cy="260.6" r="5.1"/><circle cx="2043.3" cy="248.7" r="5.1"/><circle cx="2049.9" cy="228.5" r="5.1"/><circle cx="2056.5" cy="275.4" r="5.1"/><circle cx="2063.1" cy="377.1" r="5.1"/><circle cx="2069.7" cy="234.3" r="5.1"/><circle cx="2076.3" cy="222.1" r="5.1"/><circle cx="2082.9" cy="231.2" r="5.1"/><circle cx="2089.5" cy="267.1" r="5.1"/><circle cx="2096.1" cy="290.4" r="5.1"/><circle cx="2102.7" cy="236.8" r="5.1"/><circle cx="2109.4" cy="236.8" r="5.1"/><circle cx="2116.0" cy="247.8" r="5.1"/><circle cx="2122.6" cy="293.4" r="5.1"/><circle cx="2129.2" cy="300.4" r="5.1"/><circle cx="2135.8" cy="239.9" r="5.1"/><circle cx="2142.4" cy="247.0" r="5.1"/><circle cx="2149.0" cy="245.2" r="5.1"/><circle cx="2155.6" cy="305.7" r="5.1"/></g>
<g fill="none" stroke="#151a15" stroke-width="3.1"><circle cx="1303.4" cy="701.5" r="5.1"/><circle cx="1310.0" cy="701.1" r="5.1"/><circle cx="1316.6" cy="721.0" r="5.1"/><circle cx="1323.2" cy="712.7" r="5.1"/><circle cx="1329.8" cy="720.1" r="5.1"/><circle cx="1336.4" cy="695.0" r="5.1"/><circle cx="1343.0" cy="689.5" r="5.1"/><circle cx="1349.6" cy="711.7" r="5.1"/><circle cx="1356.2" cy="710.8" r="5.1"/><circle cx="1362.9" cy="700.6" r="5.1"/><circle cx="1369.5" cy="699.7" r="5.1"/><circle cx="1376.1" cy="700.1" r="5.1"/><circle cx="1382.7" cy="707.1" r="5.1"/><circle cx="1389.3" cy="714.5" r="5.1"/><circle cx="1395.9" cy="704.3" r="5.1"/><circle cx="1402.5" cy="702.9" r="5.1"/><circle cx="1409.1" cy="708.0" r="5.1"/><circle cx="1415.7" cy="708.0" r="5.1"/><circle cx="1422.3" cy="708.0" r="5.1"/><circle cx="1428.9" cy="709.0" r="5.1"/><circle cx="1435.5" cy="695.7" r="5.1"/><circle cx="1442.1" cy="716.1" r="5.1"/><circle cx="1448.7" cy="704.9" r="5.1"/><circle cx="1455.3" cy="709.0" r="5.1"/><circle cx="1461.9" cy="709.0" r="5.1"/><circle cx="1468.6" cy="696.7" r="5.1"/><circle cx="1475.2" cy="704.9" r="5.1"/><circle cx="1481.8" cy="709.0" r="5.1"/><circle cx="1488.4" cy="703.9" r="5.1"/><circle cx="1495.0" cy="709.0" r="5.1"/><circle cx="1501.6" cy="702.9" r="5.1"/><circle cx="1508.2" cy="708.0" r="5.1"/><circle cx="1514.8" cy="718.7" r="5.1"/><circle cx="1521.4" cy="703.9" r="5.1"/><circle cx="1528.0" cy="715.1" r="5.1"/><circle cx="1534.6" cy="699.8" r="5.1"/><circle cx="1541.2" cy="705.9" r="5.1"/><circle cx="1547.8" cy="719.2" r="5.1"/><circle cx="1554.4" cy="712.0" r="5.1"/><circle cx="1561.0" cy="701.8" r="5.1"/><circle cx="1567.6" cy="702.9" r="5.1"/><circle cx="1574.3" cy="702.9" r="5.1"/><circle cx="1580.9" cy="722.2" r="5.1"/><circle cx="1587.5" cy="719.2" r="5.1"/><circle cx="1594.1" cy="702.9" r="5.1"/><circle cx="1600.7" cy="696.7" r="5.1"/><circle cx="1607.3" cy="713.1" r="5.1"/><circle cx="1613.9" cy="704.9" r="5.1"/><circle cx="1620.5" cy="702.9" r="5.1"/><circle cx="1627.1" cy="702.9" r="5.1"/><circle cx="1633.7" cy="715.1" r="5.1"/><circle cx="1640.3" cy="697.8" r="5.1"/><circle cx="1646.9" cy="705.9" r="5.1"/><circle cx="1653.5" cy="702.9" r="5.1"/><circle cx="1660.1" cy="701.8" r="5.1"/><circle cx="1666.7" cy="712.0" r="5.1"/><circle cx="1673.3" cy="703.9" r="5.1"/><circle cx="1680.0" cy="716.1" r="5.1"/><circle cx="1686.6" cy="693.7" r="5.1"/><circle cx="1693.2" cy="698.8" r="5.1"/><circle cx="1699.8" cy="712.0" r="5.1"/><circle cx="1706.4" cy="706.9" r="5.1"/><circle cx="1713.0" cy="715.1" r="5.1"/><circle cx="1719.6" cy="705.9" r="5.1"/><circle cx="1726.2" cy="709.0" r="5.1"/><circle cx="1732.8" cy="701.8" r="5.1"/><circle cx="1739.4" cy="685.0" r="5.1"/><circle cx="1746.0" cy="704.9" r="5.1"/><circle cx="1752.6" cy="704.9" r="5.1"/><circle cx="1759.2" cy="704.9" r="5.1"/><circle cx="1765.8" cy="697.2" r="5.1"/><circle cx="1772.4" cy="708.0" r="5.1"/><circle cx="1779.0" cy="708.0" r="5.1"/><circle cx="1785.6" cy="706.9" r="5.1"/><circle cx="1792.3" cy="696.7" r="5.1"/><circle cx="1798.9" cy="712.0" r="5.1"/><circle cx="1805.5" cy="701.8" r="5.1"/><circle cx="1812.1" cy="718.7" r="5.1"/><circle cx="1818.7" cy="700.8" r="5.1"/><circle cx="1825.3" cy="694.7" r="5.1"/><circle cx="1831.9" cy="692.7" r="5.1"/><circle cx="1838.5" cy="705.9" r="5.1"/><circle cx="1845.1" cy="721.2" r="5.1"/><circle cx="1851.7" cy="716.1" r="5.1"/><circle cx="1858.3" cy="700.8" r="5.1"/><circle cx="1864.9" cy="702.9" r="5.1"/><circle cx="1871.5" cy="702.9" r="5.1"/><circle cx="1878.1" cy="695.7" r="5.1"/><circle cx="1884.7" cy="720.2" r="5.1"/><circle cx="1891.3" cy="708.0" r="5.1"/><circle cx="1898.0" cy="700.8" r="5.1"/><circle cx="1904.6" cy="699.8" r="5.1"/><circle cx="1911.2" cy="712.0" r="5.1"/><circle cx="1917.8" cy="713.1" r="5.1"/><circle cx="1924.4" cy="713.1" r="5.1"/><circle cx="1931.0" cy="712.0" r="5.1"/><circle cx="1937.6" cy="714.5" r="5.1"/><circle cx="1944.2" cy="714.5" r="5.1"/><circle cx="1950.8" cy="717.9" r="5.1"/><circle cx="1957.4" cy="720.1" r="5.1"/><circle cx="1964.0" cy="713.4" r="5.1"/><circle cx="1970.6" cy="702.3" r="5.1"/><circle cx="1977.2" cy="713.4" r="5.1"/><circle cx="1983.8" cy="716.8" r="5.1"/><circle cx="1990.4" cy="706.8" r="5.1"/><circle cx="1997.0" cy="700.1" r="5.1"/><circle cx="2003.7" cy="712.3" r="5.1"/><circle cx="2010.3" cy="701.2" r="5.1"/><circle cx="2016.9" cy="715.7" r="5.1"/><circle cx="2023.5" cy="704.5" r="5.1"/><circle cx="2030.1" cy="696.7" r="5.1"/><circle cx="2036.7" cy="695.6" r="5.1"/><circle cx="2043.3" cy="699.0" r="5.1"/><circle cx="2049.9" cy="712.3" r="5.1"/><circle cx="2056.5" cy="712.3" r="5.1"/><circle cx="2063.1" cy="699.0" r="5.1"/><circle cx="2069.7" cy="699.0" r="5.1"/><circle cx="2076.3" cy="701.2" r="5.1"/><circle cx="2082.9" cy="692.3" r="5.1"/><circle cx="2089.5" cy="699.0" r="5.1"/><circle cx="2096.1" cy="711.2" r="5.1"/><circle cx="2102.7" cy="709.0" r="5.1"/><circle cx="2109.4" cy="704.5" r="5.1"/><circle cx="2116.0" cy="696.7" r="5.1"/><circle cx="2122.6" cy="700.1" r="5.1"/><circle cx="2129.2" cy="702.3" r="5.1"/><circle cx="2135.8" cy="710.1" r="5.1"/><circle cx="2142.4" cy="709.0" r="5.1"/><circle cx="2149.0" cy="712.3" r="5.1"/><circle cx="2155.6" cy="704.5" r="5.1"/></g>
<g stroke="#e8959c" stroke-width="3.2"><line x1="1446.7" y1="99.0" x2="1446.7" y2="747.8"/><line x1="1544.3" y1="99.0" x2="1544.3" y2="747.8"/><line x1="1613.5" y1="99.0" x2="1613.5" y2="747.8"/><line x1="1648.5" y1="99.0" x2="1648.5" y2="747.8"/><line x1="1681.0" y1="99.0" x2="1681.0" y2="747.8"/><line x1="1707.3" y1="99.0" x2="1707.3" y2="747.8"/><line x1="1806.7" y1="99.0" x2="1806.7" y2="747.8"/><line x1="1879.0" y1="99.0" x2="1879.0" y2="747.8"/><line x1="1945.1" y1="99.0" x2="1945.1" y2="747.8"/><line x1="2008.7" y1="99.0" x2="2008.7" y2="747.8"/><line x1="2074.4" y1="99.0" x2="2074.4" y2="747.8"/></g>
<path d="M1337.2 747.8v-5.5M1337.2 99.0v5.5M1370.3 747.8v-5.5M1370.3 99.0v5.5M1403.3 747.8v-9.5M1403.3 99.0v9.5M1436.3 747.8v-5.5M1436.3 99.0v5.5M1469.4 747.8v-5.5M1469.4 99.0v5.5M1502.4 747.8v-5.5M1502.4 99.0v5.5M1535.4 747.8v-5.5M1535.4 99.0v5.5M1568.4 747.8v-9.5M1568.4 99.0v9.5M1601.5 747.8v-5.5M1601.5 99.0v5.5M1634.5 747.8v-5.5M1634.5 99.0v5.5M1667.5 747.8v-5.5M1667.5 99.0v5.5M1700.6 747.8v-5.5M1700.6 99.0v5.5M1733.6 747.8v-9.5M1733.6 99.0v9.5M1766.6 747.8v-5.5M1766.6 99.0v5.5M1799.7 747.8v-5.5M1799.7 99.0v5.5M1832.7 747.8v-5.5M1832.7 99.0v5.5M1865.7 747.8v-5.5M1865.7 99.0v5.5M1898.8 747.8v-9.5M1898.8 99.0v9.5M1931.8 747.8v-5.5M1931.8 99.0v5.5M1964.8 747.8v-5.5M1964.8 99.0v5.5M1997.8 747.8v-5.5M1997.8 99.0v5.5M2030.9 747.8v-5.5M2030.9 99.0v5.5M2063.9 747.8v-9.5M2063.9 99.0v9.5M2096.9 747.8v-5.5M2096.9 99.0v5.5M2130.0 747.8v-5.5M2130.0 99.0v5.5M1304.2 721.8h5.5M2163.0 721.8h-5.5M1304.2 695.9h5.5M2163.0 695.9h-5.5M1304.2 669.9h5.5M2163.0 669.9h-5.5M1304.2 644.0h5.5M2163.0 644.0h-5.5M1304.2 618.0h9.5M2163.0 618.0h-9.5M1304.2 592.1h5.5M2163.0 592.1h-5.5M1304.2 566.1h5.5M2163.0 566.1h-5.5M1304.2 540.2h5.5M2163.0 540.2h-5.5M1304.2 514.2h5.5M2163.0 514.2h-5.5M1304.2 488.3h9.5M2163.0 488.3h-9.5M1304.2 462.3h5.5M2163.0 462.3h-5.5M1304.2 436.4h5.5M2163.0 436.4h-5.5M1304.2 410.4h5.5M2163.0 410.4h-5.5M1304.2 384.5h5.5M2163.0 384.5h-5.5M1304.2 358.5h9.5M2163.0 358.5h-9.5M1304.2 332.6h5.5M2163.0 332.6h-5.5M1304.2 306.6h5.5M2163.0 306.6h-5.5M1304.2 280.7h5.5M2163.0 280.7h-5.5M1304.2 254.7h5.5M2163.0 254.7h-5.5M1304.2 228.8h9.5M2163.0 228.8h-9.5M1304.2 202.8h5.5M2163.0 202.8h-5.5M1304.2 176.9h5.5M2163.0 176.9h-5.5M1304.2 150.9h5.5M2163.0 150.9h-5.5M1304.2 125.0h5.5M2163.0 125.0h-5.5" stroke="#111" stroke-width="2.8" fill="none"/>
<rect x="1304.2" y="99.0" width="858.8" height="648.8" fill="none" stroke="#111" stroke-width="2.8"/>
<g font-size="57"><text x="1288.2" y="769.1" text-anchor="end">0</text><text x="1288.2" y="639.3" text-anchor="end">0.2</text><text x="1288.2" y="509.6" text-anchor="end">0.4</text><text x="1288.2" y="379.8" text-anchor="end">0.6</text><text x="1288.2" y="250.1" text-anchor="end">0.8</text><text x="1288.2" y="120.3" text-anchor="end">1</text><text x="1403.8" y="819.8" text-anchor="middle">1985</text><text x="1568.9" y="819.8" text-anchor="middle">1990</text><text x="1734.1" y="819.8" text-anchor="middle">1995</text><text x="1899.3" y="819.8" text-anchor="middle">2000</text><text x="2064.4" y="819.8" text-anchor="middle">2005</text></g>
<text x="1733.6" y="55.0" text-anchor="middle" font-size="57">TM Path 26 Row 28 # Sample 114</text>
<text transform="translate(1171.8,423.4) rotate(-90)" text-anchor="middle" font-size="45.5">NDVI MJJAS|Std|</text>
<g stroke="#3a3a3a" stroke-width="2.2" stroke-dasharray="3 22.78" stroke-dashoffset="0.7"><line x1="273.8" y1="1659.3" x2="273.8" y2="1010.6"/><line x1="439.0" y1="1659.3" x2="439.0" y2="1010.6"/><line x1="604.2" y1="1659.3" x2="604.2" y2="1010.6"/><line x1="769.5" y1="1659.3" x2="769.5" y2="1010.6"/><line x1="934.7" y1="1659.3" x2="934.7" y2="1010.6"/></g>
<g stroke="#3a3a3a" stroke-width="2.2" stroke-dasharray="3 22.78" stroke-dashoffset="0.4"><line x1="174.7" y1="1529.6" x2="1033.8" y2="1529.6"/><line x1="174.7" y1="1399.8" x2="1033.8" y2="1399.8"/><line x1="174.7" y1="1270.1" x2="1033.8" y2="1270.1"/><line x1="174.7" y1="1140.3" x2="1033.8" y2="1140.3"/></g>
<polyline points="173.9,1142.9 180.5,1101.2 187.1,1121.9 193.7,1117.5 200.3,1156.1 206.9,1302.1 213.6,1121.0 220.2,1100.5 226.8,1102.6 233.4,1188.2 240.0,1256.9 246.6,1114.0 253.2,1100.0 259.8,1124.5 266.4,1201.7 273.0,1142.6 279.6,1100.0 286.2,1113.5 292.9,1136.8 299.5,1238.5 306.1,1184.1 312.7,1085.9 319.3,1109.3 325.9,1121.9 332.5,1155.2 339.1,1247.3 345.7,1159.6 352.3,1116.6 358.9,1131.5 365.5,1200.4 372.2,1207.8 378.8,1112.8 385.4,1100.0 392.0,1131.5 398.6,1141.5 405.2,1189.4 411.8,1079.5 418.4,1098.7 425.0,1138.5 431.6,1162.6 438.2,1225.0 444.8,1153.8 451.5,1116.6 458.1,1109.6 464.7,1140.3 471.3,1196.4 477.9,1087.7 484.5,1108.7 491.1,1088.9 497.7,1197.6 504.3,1198.2 510.9,1078.1 517.5,1109.6 524.1,1125.0 530.8,1108.7 537.4,1255.5 544.0,1172.7 550.6,1094.7 557.2,1148.2 563.8,1160.8 570.4,1204.3 577.0,1149.1 583.6,1139.8 590.2,1131.0 596.8,1222.2 603.5,1246.0 610.1,1145.6 616.7,1101.7 623.3,1090.7 629.9,1112.2 636.5,1259.5 643.1,1126.3 649.7,1102.6 656.3,1100.5 662.9,1136.8 669.5,1315.6 676.1,1146.1 682.8,1107.0 689.4,1090.3 696.0,1174.8 702.6,1180.6 709.2,1152.6 715.8,1134.5 722.4,1171.0 729.0,1188.5 735.6,1287.1 742.2,1184.1 748.8,1123.6 755.4,1137.3 762.1,1174.8 768.7,1229.7 775.3,1180.1 781.9,1166.6 788.5,1156.1 795.1,1215.7 801.7,1172.7 808.3,1164.8 814.9,1136.8 821.5,1154.9 828.1,1164.8 834.7,1259.5 841.4,1155.2 848.0,1145.6 854.6,1146.8 861.2,1177.6 867.8,1251.3 874.4,1149.6 881.0,1138.5 887.6,1162.2 894.2,1149.1 900.8,1270.6 907.4,1182.9 914.0,1172.7 920.7,1146.1 927.3,1190.3 933.9,1292.8 940.5,1150.8 947.1,1138.5 953.7,1149.6 960.3,1179.7 966.9,1255.1 973.5,1164.8 980.1,1156.1 986.7,1163.1 993.3,1209.9 1000.0,1222.7 1006.6,1146.8 1013.2,1167.5 1019.8,1156.1 1026.4,1230.6" fill="none" stroke="#9ccaa0" stroke-width="6" stroke-linejoin="round"/>
<line x1="174.7" y1="1135.2" x2="1033.8" y2="1182.5" stroke="#cccccc" stroke-width="2"/>
<line x1="174.7" y1="1617.8" x2="1033.8" y2="1614.5" stroke="#cccccc" stroke-width="2"/>
<polyline points="200.6,1143.5 210.8,1143.7 221.0,1144.1 231.2,1146.7 241.4,1144.7 251.6,1144.1 261.8,1145.1 272.0,1145.5 282.2,1145.5 292.4,1143.5 300.6,1141.4 312.9,1147.1 323.1,1152.2 333.3,1155.7 343.5,1159.4 353.7,1162.4 363.9,1163.5 374.1,1159.4 384.3,1154.3 394.5,1152.2 404.7,1153.3 414.9,1155.3 425.1,1157.3 435.3,1158.4 445.5,1158.4 455.7,1155.3 465.9,1148.2 476.1,1140.0 486.3,1135.9 496.5,1133.9 506.7,1133.9 516.9,1135.3 527.1,1139.0 537.3,1141.0 547.6,1144.1 557.8,1148.2 568.0,1151.2 578.2,1153.3 588.4,1149.2 599.3,1149.7 609.5,1150.7 620.4,1148.2 630.6,1144.7 640.8,1149.2 651.0,1150.2 661.2,1149.2 671.4,1147.6 681.6,1154.3 691.8,1160.4 702.0,1163.5 712.2,1167.6 722.4,1173.7 732.7,1180.8 742.9,1182.9 753.1,1181.8 763.3,1179.8 773.5,1174.7 783.7,1170.6 793.9,1168.6 804.1,1167.6 814.3,1166.5 824.5,1166.5 834.7,1168.6 844.9,1170.6 855.1,1174.7 865.3,1179.8 875.5,1185.9 885.7,1190.0 895.9,1193.1 906.1,1194.5 916.3,1193.1 926.5,1190.0 936.7,1181.8 946.9,1178.8 957.1,1177.8 967.3,1178.8 977.6,1179.8 987.8,1182.9 991.8,1184.3" fill="none" stroke="#1c6b1c" stroke-width="12" stroke-linejoin="round" stroke-linecap="butt"/>
<g fill="#b4c8b4" stroke="#151a15" stroke-width="3.1"><circle cx="173.9" cy="1142.9" r="5.1"/><circle cx="180.5" cy="1101.2" r="5.1"/><circle cx="187.1" cy="1121.9" r="5.1"/><circle cx="193.7" cy="1117.5" r="5.1"/><circle cx="200.3" cy="1156.1" r="5.1"/><circle cx="206.9" cy="1302.1" r="5.1"/><circle cx="213.6" cy="1121.0" r="5.1"/><circle cx="220.2" cy="1100.5" r="5.1"/><circle cx="226.8" cy="1102.6" r="5.1"/><circle cx="233.4" cy="1188.2" r="5.1"/><circle cx="240.0" cy="1256.9" r="5.1"/><circle cx="246.6" cy="1114.0" r="5.1"/><circle cx="253.2" cy="1100.0" r="5.1"/><circle cx="259.8" cy="1124.5" r="5.1"/><circle cx="266.4" cy="1201.7" r="5.1"/><circle cx="273.0" cy="1142.6" r="5.1"/><circle cx="279.6" cy="1100.0" r="5.1"/><circle cx="286.2" cy="1113.5" r="5.1"/><circle cx="292.9" cy="1136.8" r="5.1"/><circle cx="299.5" cy="1238.5" r="5.1"/><circle cx="306.1" cy="1184.1" r="5.1"/><circle cx="312.7" cy="1085.9" r="5.1"/><circle cx="319.3" cy="1109.3" r="5.1"/><circle cx="325.9" cy="1121.9" r="5.1"/><circle cx="332.5" cy="1155.2" r="5.1"/><circle cx="339.1" cy="1247.3" r="5.1"/><circle cx="345.7" cy="1159.6" r="5.1"/><circle cx="352.3" cy="1116.6" r="5.1"/><circle cx="358.9" cy="1131.5" r="5.1"/><circle cx="365.5" cy="1200.4" r="5.1"/><circle cx="372.2" cy="1207.8" r="5.1"/><circle cx="378.8" cy="1112.8" r="5.1"/><circle cx="385.4" cy="1100.0" r="5.1"/><circle cx="392.0" cy="1131.5" r="5.1"/><circle cx="398.6" cy="1141.5" r="5.1"/><circle cx="405.2" cy="1189.4" r="5.1"/><circle cx="411.8" cy="1079.5" r="5.1"/><circle cx="418.4" cy="1098.7" r="5.1"/><circle cx="425.0" cy="1138.5" r="5.1"/><circle cx="431.6" cy="1162.6" r="5.1"/><circle cx="438.2" cy="1225.0" r="5.1"/><circle cx="444.8" cy="1153.8" r="5.1"/><circle cx="451.5" cy="1116.6" r="5.1"/><circle cx="458.1" cy="1109.6" r="5.1"/><circle cx="464.7" cy="1140.3" r="5.1"/><circle cx="471.3" cy="1196.4" r="5.1"/><circle cx="477.9" cy="1087.7" r="5.1"/><circle cx="484.5" cy="1108.7" r="5.1"/><circle cx="491.1" cy="1088.9" r="5.1"/><circle cx="497.7" cy="1197.6" r="5.1"/><circle cx="504.3" cy="1198.2" r="5.1"/><circle cx="510.9" cy="1078.1" r="5.1"/><circle cx="517.5" cy="1109.6" r="5.1"/><circle cx="524.1" cy="1125.0" r="5.1"/><circle cx="530.8" cy="1108.7" r="5.1"/><circle cx="537.4" cy="1255.5" r="5.1"/><circle cx="544.0" cy="1172.7" r="5.1"/><circle cx="550.6" cy="1094.7" r="5.1"/><circle cx="557.2" cy="1148.2" r="5.1"/><circle cx="563.8" cy="1160.8" r="5.1"/><circle cx="570.4" cy="1204.3" r="5.1"/><circle cx="577.0" cy="1149.1" r="5.1"/><circle cx="583.6" cy="1139.8" r="5.1"/><circle cx="590.2" cy="1131.0" r="5.1"/><circle cx="596.8" cy="1222.2" r="5.1"/><circle cx="603.5" cy="1246.0" r="5.1"/><circle cx="610.1" cy="1145.6" r="5.1"/><circle cx="616.7" cy="1101.7" r="5.1"/><circle cx="623.3" cy="1090.7" r="5.1"/><circle cx="629.9" cy="1112.2" r="5.1"/><circle cx="636.5" cy="1259.5" r="5.1"/><circle cx="643.1" cy="1126.3" r="5.1"/><circle cx="649.7" cy="1102.6" r="5.1"/><circle cx="656.3" cy="1100.5" r="5.1"/><circle cx="662.9" cy="1136.8" r="5.1"/><circle cx="669.5" cy="1315.6" r="5.1"/><circle cx="676.1" cy="1146.1" r="5.1"/><circle cx="682.8" cy="1107.0" r="5.1"/><circle cx="689.4" cy="1090.3" r="5.1"/><circle cx="696.0" cy="1174.8" r="5.1"/><circle cx="702.6" cy="1180.6" r="5.1"/><circle cx="709.2" cy="1152.6" r="5.1"/><circle cx="715.8" cy="1134.5" r="5.1"/><circle cx="722.4" cy="1171.0" r="5.1"/><circle cx="729.0" cy="1188.5" r="5.1"/><circle cx="735.6" cy="1287.1" r="5.1"/><circle cx="742.2" cy="1184.1" r="5.1"/><circle cx="748.8" cy="1123.6" r="5.1"/><circle cx="755.4" cy="1137.3" r="5.1"/><circle cx="762.1" cy="1174.8" r="5.1"/><circle cx="768.7" cy="1229.7" r="5.1"/><circle cx="775.3" cy="1180.1" r="5.1"/><circle cx="781.9" cy="1166.6" r="5.1"/><circle cx="788.5" cy="1156.1" r="5.1"/><circle cx="795.1" cy="1215.7" r="5.1"/><circle cx="801.7" cy="1172.7" r="5.1"/><circle cx="808.3" cy="1164.8" r="5.1"/><circle cx="814.9" cy="1136.8" r="5.1"/><circle cx="821.5" cy="1154.9" r="5.1"/><circle cx="828.1" cy="1164.8" r="5.1"/><circle cx="834.7" cy="1259.5" r="5.1"/><circle cx="841.4" cy="1155.2" r="5.1"/><circle cx="848.0" cy="1145.6" r="5.1"/><circle cx="854.6" cy="1146.8" r="5.1"/><circle cx="861.2" cy="1177.6" r="5.1"/><circle cx="867.8" cy="1251.3" r="5.1"/><circle cx="874.4" cy="1149.6" r="5.1"/><circle cx="881.0" cy="1138.5" r="5.1"/><circle cx="887.6" cy="1162.2" r="5.1"/><circle cx="894.2" cy="1149.1" r="5.1"/><circle cx="900.8" cy="1270.6" r="5.1"/><circle cx="907.4" cy="1182.9" r="5.1"/><circle cx="914.0" cy="1172.7" r="5.1"/><circle cx="920.7" cy="1146.1" r="5.1"/><circle cx="927.3" cy="1190.3" r="5.1"/><circle cx="933.9" cy="1292.8" r="5.1"/><circle cx="940.5" cy="1150.8" r="5.1"/><circle cx="947.1" cy="1138.5" r="5.1"/><circle cx="953.7" cy="1149.6" r="5.1"/><circle cx="960.3" cy="1179.7" r="5.1"/><circle cx="966.9" cy="1255.1" r="5.1"/><circle cx="973.5" cy="1164.8" r="5.1"/><circle cx="980.1" cy="1156.1" r="5.1"/><circle cx="986.7" cy="1163.1" r="5.1"/><circle cx="993.3" cy="1209.9" r="5.1"/><circle cx="1000.0" cy="1222.7" r="5.1"/><circle cx="1006.6" cy="1146.8" r="5.1"/><circle cx="1013.2" cy="1167.5" r="5.1"/><circle cx="1019.8" cy="1156.1" r="5.1"/><circle cx="1026.4" cy="1230.6" r="5.1"/></g>
<g fill="none" stroke="#151a15" stroke-width="3.1"><circle cx="173.9" cy="1613.9" r="5.1"/><circle cx="180.5" cy="1604.7" r="5.1"/><circle cx="187.1" cy="1628.2" r="5.1"/><circle cx="193.7" cy="1619.0" r="5.1"/><circle cx="200.3" cy="1630.2" r="5.1"/><circle cx="206.9" cy="1610.3" r="5.1"/><circle cx="213.6" cy="1607.8" r="5.1"/><circle cx="220.2" cy="1615.9" r="5.1"/><circle cx="226.8" cy="1635.3" r="5.1"/><circle cx="233.4" cy="1621.0" r="5.1"/><circle cx="240.0" cy="1626.1" r="5.1"/><circle cx="246.6" cy="1619.0" r="5.1"/><circle cx="253.2" cy="1616.9" r="5.1"/><circle cx="259.8" cy="1613.9" r="5.1"/><circle cx="266.4" cy="1627.1" r="5.1"/><circle cx="273.0" cy="1597.6" r="5.1"/><circle cx="279.6" cy="1636.3" r="5.1"/><circle cx="286.2" cy="1620.0" r="5.1"/><circle cx="292.9" cy="1612.9" r="5.1"/><circle cx="299.5" cy="1604.7" r="5.1"/><circle cx="306.1" cy="1619.0" r="5.1"/><circle cx="312.7" cy="1634.3" r="5.1"/><circle cx="319.3" cy="1633.3" r="5.1"/><circle cx="325.9" cy="1585.3" r="5.1"/><circle cx="332.5" cy="1594.0" r="5.1"/><circle cx="339.1" cy="1612.9" r="5.1"/><circle cx="345.7" cy="1613.9" r="5.1"/><circle cx="352.3" cy="1639.4" r="5.1"/><circle cx="358.9" cy="1626.1" r="5.1"/><circle cx="365.5" cy="1604.7" r="5.1"/><circle cx="372.2" cy="1602.1" r="5.1"/><circle cx="378.8" cy="1631.2" r="5.1"/><circle cx="385.4" cy="1641.4" r="5.1"/><circle cx="392.0" cy="1619.0" r="5.1"/><circle cx="398.6" cy="1628.2" r="5.1"/><circle cx="405.2" cy="1631.2" r="5.1"/><circle cx="411.8" cy="1621.0" r="5.1"/><circle cx="418.4" cy="1625.1" r="5.1"/><circle cx="425.0" cy="1627.1" r="5.1"/><circle cx="431.6" cy="1612.9" r="5.1"/><circle cx="438.2" cy="1622.0" r="5.1"/><circle cx="444.8" cy="1622.0" r="5.1"/><circle cx="451.5" cy="1612.9" r="5.1"/><circle cx="458.1" cy="1611.8" r="5.1"/><circle cx="464.7" cy="1626.1" r="5.1"/><circle cx="471.3" cy="1626.1" r="5.1"/><circle cx="477.9" cy="1609.8" r="5.1"/><circle cx="484.5" cy="1631.2" r="5.1"/><circle cx="491.1" cy="1613.9" r="5.1"/><circle cx="497.7" cy="1625.1" r="5.1"/><circle cx="504.3" cy="1613.9" r="5.1"/><circle cx="510.9" cy="1613.9" r="5.1"/><circle cx="517.5" cy="1609.8" r="5.1"/><circle cx="524.1" cy="1622.0" r="5.1"/><circle cx="530.8" cy="1585.3" r="5.1"/><circle cx="537.4" cy="1601.6" r="5.1"/><circle cx="544.0" cy="1612.9" r="5.1"/><circle cx="550.6" cy="1620.0" r="5.1"/><circle cx="557.2" cy="1618.0" r="5.1"/><circle cx="563.8" cy="1621.0" r="5.1"/><circle cx="570.4" cy="1615.9" r="5.1"/><circle cx="577.0" cy="1614.9" r="5.1"/><circle cx="583.6" cy="1627.1" r="5.1"/><circle cx="590.2" cy="1616.9" r="5.1"/><circle cx="596.8" cy="1618.0" r="5.1"/><circle cx="603.5" cy="1615.9" r="5.1"/><circle cx="610.1" cy="1606.2" r="5.1"/><circle cx="616.7" cy="1596.0" r="5.1"/><circle cx="623.3" cy="1621.0" r="5.1"/><circle cx="629.9" cy="1631.2" r="5.1"/><circle cx="636.5" cy="1609.8" r="5.1"/><circle cx="643.1" cy="1596.0" r="5.1"/><circle cx="649.7" cy="1627.1" r="5.1"/><circle cx="656.3" cy="1624.1" r="5.1"/><circle cx="662.9" cy="1595.0" r="5.1"/><circle cx="669.5" cy="1630.7" r="5.1"/><circle cx="676.1" cy="1609.8" r="5.1"/><circle cx="682.8" cy="1598.6" r="5.1"/><circle cx="689.4" cy="1608.8" r="5.1"/><circle cx="696.0" cy="1608.8" r="5.1"/><circle cx="702.6" cy="1603.2" r="5.1"/><circle cx="709.2" cy="1624.1" r="5.1"/><circle cx="715.8" cy="1635.3" r="5.1"/><circle cx="722.4" cy="1629.2" r="5.1"/><circle cx="729.0" cy="1597.6" r="5.1"/><circle cx="735.6" cy="1616.9" r="5.1"/><circle cx="742.2" cy="1612.9" r="5.1"/><circle cx="748.8" cy="1609.8" r="5.1"/><circle cx="755.4" cy="1631.2" r="5.1"/><circle cx="762.1" cy="1609.8" r="5.1"/><circle cx="768.7" cy="1622.6" r="5.1"/><circle cx="775.3" cy="1603.7" r="5.1"/><circle cx="781.9" cy="1601.6" r="5.1"/><circle cx="788.5" cy="1616.9" r="5.1"/><circle cx="795.1" cy="1624.1" r="5.1"/><circle cx="801.7" cy="1622.0" r="5.1"/><circle cx="808.3" cy="1631.2" r="5.1"/><circle cx="814.9" cy="1610.1" r="5.1"/><circle cx="821.5" cy="1610.1" r="5.1"/><circle cx="828.1" cy="1623.4" r="5.1"/><circle cx="834.7" cy="1623.4" r="5.1"/><circle cx="841.4" cy="1623.4" r="5.1"/><circle cx="848.0" cy="1626.8" r="5.1"/><circle cx="854.6" cy="1616.8" r="5.1"/><circle cx="861.2" cy="1621.2" r="5.1"/><circle cx="867.8" cy="1612.3" r="5.1"/><circle cx="874.4" cy="1622.3" r="5.1"/><circle cx="881.0" cy="1629.0" r="5.1"/><circle cx="887.6" cy="1611.2" r="5.1"/><circle cx="894.2" cy="1611.2" r="5.1"/><circle cx="900.8" cy="1630.1" r="5.1"/><circle cx="907.4" cy="1619.0" r="5.1"/><circle cx="914.0" cy="1619.0" r="5.1"/><circle cx="920.7" cy="1619.0" r="5.1"/><circle cx="927.3" cy="1622.3" r="5.1"/><circle cx="933.9" cy="1604.5" r="5.1"/><circle cx="940.5" cy="1617.9" r="5.1"/><circle cx="947.1" cy="1619.0" r="5.1"/><circle cx="953.7" cy="1619.0" r="5.1"/><circle cx="960.3" cy="1619.0" r="5.1"/><circle cx="966.9" cy="1615.6" r="5.1"/><circle cx="973.5" cy="1621.2" r="5.1"/><circle cx="980.1" cy="1619.0" r="5.1"/><circle cx="986.7" cy="1623.4" r="5.1"/><circle cx="993.3" cy="1613.4" r="5.1"/><circle cx="1000.0" cy="1602.3" r="5.1"/><circle cx="1006.6" cy="1610.1" r="5.1"/><circle cx="1013.2" cy="1604.5" r="5.1"/><circle cx="1019.8" cy="1623.4" r="5.1"/><circle cx="1026.4" cy="1620.1" r="5.1"/></g>
<g stroke="#e8959c" stroke-width="3.2"><line x1="245.7" y1="1010.6" x2="245.7" y2="1659.3"/><line x1="315.5" y1="1010.6" x2="315.5" y2="1659.3"/><line x1="415.4" y1="1010.6" x2="415.4" y2="1659.3"/><line x1="483.4" y1="1010.6" x2="483.4" y2="1659.3"/><line x1="550.7" y1="1010.6" x2="550.7" y2="1659.3"/><line x1="584.5" y1="1010.6" x2="584.5" y2="1659.3"/><line x1="619.6" y1="1010.6" x2="619.6" y2="1659.3"/><line x1="649.9" y1="1010.6" x2="649.9" y2="1659.3"/><line x1="745.2" y1="1010.6" x2="745.2" y2="1659.3"/><line x1="782.6" y1="1010.6" x2="782.6" y2="1659.3"/><line x1="841.0" y1="1010.6" x2="841.0" y2="1659.3"/><line x1="878.4" y1="1010.6" x2="878.4" y2="1659.3"/><line x1="947.3" y1="1010.6" x2="947.3" y2="1659.3"/><line x1="979.8" y1="1010.6" x2="979.8" y2="1659.3"/></g>
<path d="M207.7 1659.3v-5.5M207.7 1010.6v5.5M240.8 1659.3v-5.5M240.8 1010.6v5.5M273.8 1659.3v-9.5M273.8 1010.6v9.5M306.9 1659.3v-5.5M306.9 1010.6v5.5M339.9 1659.3v-5.5M339.9 1010.6v5.5M373.0 1659.3v-5.5M373.0 1010.6v5.5M406.0 1659.3v-5.5M406.0 1010.6v5.5M439.0 1659.3v-9.5M439.0 1010.6v9.5M472.1 1659.3v-5.5M472.1 1010.6v5.5M505.1 1659.3v-5.5M505.1 1010.6v5.5M538.2 1659.3v-5.5M538.2 1010.6v5.5M571.2 1659.3v-5.5M571.2 1010.6v5.5M604.2 1659.3v-9.5M604.2 1010.6v9.5M637.3 1659.3v-5.5M637.3 1010.6v5.5M670.3 1659.3v-5.5M670.3 1010.6v5.5M703.4 1659.3v-5.5M703.4 1010.6v5.5M736.4 1659.3v-5.5M736.4 1010.6v5.5M769.5 1659.3v-9.5M769.5 1010.6v9.5M802.5 1659.3v-5.5M802.5 1010.6v5.5M835.5 1659.3v-5.5M835.5 1010.6v5.5M868.6 1659.3v-5.5M868.6 1010.6v5.5M901.6 1659.3v-5.5M901.6 1010.6v5.5M934.7 1659.3v-9.5M934.7 1010.6v9.5M967.7 1659.3v-5.5M967.7 1010.6v5.5M1000.8 1659.3v-5.5M1000.8 1010.6v5.5M174.7 1633.4h5.5M1033.8 1633.4h-5.5M174.7 1607.4h5.5M1033.8 1607.4h-5.5M174.7 1581.5h5.5M1033.8 1581.5h-5.5M174.7 1555.5h5.5M1033.8 1555.5h-5.5M174.7 1529.6h9.5M1033.8 1529.6h-9.5M174.7 1503.6h5.5M1033.8 1503.6h-5.5M174.7 1477.7h5.5M1033.8 1477.7h-5.5M174.7 1451.7h5.5M1033.8 1451.7h-5.5M174.7 1425.8h5.5M1033.8 1425.8h-5.5M174.7 1399.8h9.5M1033.8 1399.8h-9.5M174.7 1373.9h5.5M1033.8 1373.9h-5.5M174.7 1347.9h5.5M1033.8 1347.9h-5.5M174.7 1322.0h5.5M1033.8 1322.0h-5.5M174.7 1296.0h5.5M1033.8 1296.0h-5.5M174.7 1270.1h9.5M1033.8 1270.1h-9.5M174.7 1244.1h5.5M1033.8 1244.1h-5.5M174.7 1218.2h5.5M1033.8 1218.2h-5.5M174.7 1192.2h5.5M1033.8 1192.2h-5.5M174.7 1166.3h5.5M1033.8 1166.3h-5.5M174.7 1140.3h9.5M1033.8 1140.3h-9.5M174.7 1114.4h5.5M1033.8 1114.4h-5.5M174.7 1088.4h5.5M1033.8 1088.4h-5.5M174.7 1062.5h5.5M1033.8 1062.5h-5.5M174.7 1036.5h5.5M1033.8 1036.5h-5.5" stroke="#111" stroke-width="2.8" fill="none"/>
<rect x="174.7" y="1010.6" width="859.1" height="648.7" fill="none" stroke="#111" stroke-width="2.8"/>
<g font-size="57"><text x="158.7" y="1680.6" text-anchor="end">0</text><text x="158.7" y="1550.9" text-anchor="end">0.2</text><text x="158.7" y="1421.1" text-anchor="end">0.4</text><text x="158.7" y="1291.4" text-anchor="end">0.6</text><text x="158.7" y="1161.6" text-anchor="end">0.8</text><text x="158.7" y="1031.9" text-anchor="end">1</text><text x="274.3" y="1731.3" text-anchor="middle">1985</text><text x="439.5" y="1731.3" text-anchor="middle">1990</text><text x="604.8" y="1731.3" text-anchor="middle">1995</text><text x="770.0" y="1731.3" text-anchor="middle">2000</text><text x="935.2" y="1731.3" text-anchor="middle">2005</text></g>
<text x="604.2" y="966.6" text-anchor="middle" font-size="57">TM Path 25 Row 28 # Sample 57</text>
<text transform="translate(42.3,1335.0) rotate(-90)" text-anchor="middle" font-size="45.5">NDVI MJJAS|Std|</text>
<g stroke="#3a3a3a" stroke-width="2.2" stroke-dasharray="3 22.78" stroke-dashoffset="0.7"><line x1="1403.3" y1="1659.3" x2="1403.3" y2="1010.6"/><line x1="1568.4" y1="1659.3" x2="1568.4" y2="1010.6"/><line x1="1733.6" y1="1659.3" x2="1733.6" y2="1010.6"/><line x1="1898.8" y1="1659.3" x2="1898.8" y2="1010.6"/><line x1="2063.9" y1="1659.3" x2="2063.9" y2="1010.6"/></g>
<g stroke="#3a3a3a" stroke-width="2.2" stroke-dasharray="3 22.78" stroke-dashoffset="0.4"><line x1="1304.2" y1="1529.6" x2="2163.0" y2="1529.6"/><line x1="1304.2" y1="1399.8" x2="2163.0" y2="1399.8"/><line x1="1304.2" y1="1270.1" x2="2163.0" y2="1270.1"/><line x1="1304.2" y1="1140.3" x2="2163.0" y2="1140.3"/></g>
<polyline points="1303.4,1192.4 1310.0,1117.5 1316.6,1110.5 1323.2,1117.0 1329.8,1158.4 1336.4,1244.3 1343.0,1135.9 1349.6,1108.2 1356.2,1134.5 1362.9,1196.4 1369.5,1238.0 1376.1,1112.8 1382.7,1118.4 1389.3,1158.4 1395.9,1208.7 1402.5,1159.6 1409.1,1131.5 1415.7,1139.1 1422.3,1167.8 1428.9,1222.7 1435.5,1193.8 1442.1,1121.0 1448.7,1131.5 1455.3,1135.0 1461.9,1170.6 1468.6,1193.8 1475.2,1149.8 1481.8,1139.4 1488.4,1152.0 1495.0,1192.4 1501.6,1207.5 1508.2,1134.5 1514.8,1131.5 1521.4,1146.8 1528.0,1164.0 1534.6,1216.9 1541.2,1128.6 1547.8,1124.5 1554.4,1164.0 1561.0,1186.8 1567.6,1232.3 1574.3,1172.7 1580.9,1145.6 1587.5,1135.9 1594.1,1177.1 1600.7,1223.9 1607.3,1119.3 1613.9,1118.4 1620.5,1100.0 1627.1,1170.6 1633.7,1198.2 1640.3,1101.2 1646.9,1148.2 1653.5,1108.7 1660.1,1102.6 1666.7,1232.0 1673.3,1157.8 1680.0,1120.5 1686.6,1147.3 1693.2,1175.9 1699.8,1191.1 1706.4,1154.3 1713.0,1158.7 1719.6,1160.8 1726.2,1204.3 1732.8,1261.3 1739.4,1168.9 1746.0,1103.0 1752.6,1124.5 1759.2,1143.3 1765.8,1244.3 1772.4,1131.5 1779.0,1115.8 1785.6,1107.9 1792.3,1156.6 1798.9,1291.1 1805.5,1144.3 1812.1,1114.0 1818.7,1102.6 1825.3,1165.7 1831.9,1203.4 1838.5,1172.7 1845.1,1133.3 1851.7,1171.0 1858.3,1204.6 1864.9,1287.1 1871.5,1209.9 1878.1,1123.6 1884.7,1153.4 1891.3,1178.3 1898.0,1244.3 1904.6,1185.0 1911.2,1167.1 1917.8,1179.4 1924.4,1219.7 1931.0,1188.5 1937.6,1167.8 1944.2,1142.6 1950.8,1172.7 1957.4,1175.9 1964.0,1228.0 1970.6,1189.9 1977.2,1136.8 1983.8,1137.7 1990.4,1186.8 1997.0,1265.3 2003.7,1175.9 2010.3,1152.0 2016.9,1191.1 2023.5,1187.6 2030.1,1252.5 2036.7,1193.8 2043.3,1208.7 2049.9,1170.1 2056.5,1213.1 2063.1,1287.1 2069.7,1182.4 2076.3,1164.3 2082.9,1164.8 2089.5,1195.2 2096.1,1262.5 2102.7,1184.1 2109.4,1181.5 2116.0,1167.1 2122.6,1215.7 2129.2,1203.4 2135.8,1181.2 2142.4,1174.8 2149.0,1181.2 2155.6,1205.7" fill="none" stroke="#9ccaa0" stroke-width="6" stroke-linejoin="round"/>
<line x1="1304.2" y1="1145.5" x2="2163.0" y2="1193.5" stroke="#cccccc" stroke-width="2"/>
<line x1="1304.2" y1="1625.6" x2="2163.0" y2="1624.9" stroke="#cccccc" stroke-width="2"/>
<polyline points="1330.6,1143.5 1340.8,1143.5 1351.0,1144.1 1361.2,1146.1 1371.4,1142.7 1381.6,1143.1 1391.8,1144.7 1402.0,1144.7 1412.2,1144.7 1422.4,1142.7 1430.6,1140.4 1442.9,1146.1 1453.1,1153.3 1463.3,1156.3 1473.5,1159.4 1483.7,1161.8 1493.9,1162.4 1504.1,1158.4 1514.3,1152.2 1524.5,1151.2 1534.7,1153.3 1544.9,1155.3 1555.1,1156.3 1565.3,1157.3 1575.5,1157.3 1585.7,1155.3 1595.9,1149.2 1606.1,1142.0 1616.3,1135.9 1626.5,1134.5 1636.7,1134.5 1646.9,1135.9 1657.1,1139.0 1667.3,1141.0 1677.6,1143.5 1687.8,1147.1 1698.0,1151.2 1708.2,1153.3 1718.4,1149.2 1729.3,1149.7 1739.5,1151.7 1750.4,1149.2 1760.6,1144.7 1770.8,1149.2 1781.0,1150.2 1791.2,1149.2 1801.4,1145.1 1811.6,1151.2 1821.8,1160.4 1832.0,1163.5 1842.2,1168.6 1852.4,1175.7 1862.7,1182.9 1872.9,1183.9 1883.1,1181.8 1893.3,1176.7 1903.5,1173.7 1913.7,1170.6 1923.9,1168.6 1934.1,1167.6 1944.3,1165.5 1954.5,1164.5 1964.7,1167.6 1974.9,1170.6 1985.1,1175.7 1995.3,1180.8 2005.5,1185.9 2015.7,1190.0 2025.9,1193.1 2036.1,1194.1 2046.3,1193.1 2056.5,1191.0 2066.7,1181.8 2076.9,1177.8 2087.1,1177.8 2097.3,1178.8 2107.6,1179.8 2117.8,1182.9 2123.9,1183.9" fill="none" stroke="#1c6b1c" stroke-width="12" stroke-linejoin="round" stroke-linecap="butt"/>
<g fill="#b4c8b4" stroke="#151a15" stroke-width="3.1"><circle cx="1303.4" cy="1192.4" r="5.1"/><circle cx="1310.0" cy="1117.5" r="5.1"/><circle cx="1316.6" cy="1110.5" r="5.1"/><circle cx="1323.2" cy="1117.0" r="5.1"/><circle cx="1329.8" cy="1158.4" r="5.1"/><circle cx="1336.4" cy="1244.3" r="5.1"/><circle cx="1343.0" cy="1135.9" r="5.1"/><circle cx="1349.6" cy="1108.2" r="5.1"/><circle cx="1356.2" cy="1134.5" r="5.1"/><circle cx="1362.9" cy="1196.4" r="5.1"/><circle cx="1369.5" cy="1238.0" r="5.1"/><circle cx="1376.1" cy="1112.8" r="5.1"/><circle cx="1382.7" cy="1118.4" r="5.1"/><circle cx="1389.3" cy="1158.4" r="5.1"/><circle cx="1395.9" cy="1208.7" r="5.1"/><circle cx="1402.5" cy="1159.6" r="5.1"/><circle cx="1409.1" cy="1131.5" r="5.1"/><circle cx="1415.7" cy="1139.1" r="5.1"/><circle cx="1422.3" cy="1167.8" r="5.1"/><circle cx="1428.9" cy="1222.7" r="5.1"/><circle cx="1435.5" cy="1193.8" r="5.1"/><circle cx="1442.1" cy="1121.0" r="5.1"/><circle cx="1448.7" cy="1131.5" r="5.1"/><circle cx="1455.3" cy="1135.0" r="5.1"/><circle cx="1461.9" cy="1170.6" r="5.1"/><circle cx="1468.6" cy="1193.8" r="5.1"/><circle cx="1475.2" cy="1149.8" r="5.1"/><circle cx="1481.8" cy="1139.4" r="5.1"/><circle cx="1488.4" cy="1152.0" r="5.1"/><circle cx="1495.0" cy="1192.4" r="5.1"/><circle cx="1501.6" cy="1207.5" r="5.1"/><circle cx="1508.2" cy="1134.5" r="5.1"/><circle cx="1514.8" cy="1131.5" r="5.1"/><circle cx="1521.4" cy="1146.8" r="5.1"/><circle cx="1528.0" cy="1164.0" r="5.1"/><circle cx="1534.6" cy="1216.9" r="5.1"/><circle cx="1541.2" cy="1128.6" r="5.1"/><circle cx="1547.8" cy="1124.5" r="5.1"/><circle cx="1554.4" cy="1164.0" r="5.1"/><circle cx="1561.0" cy="1186.8" r="5.1"/><circle cx="1567.6" cy="1232.3" r="5.1"/><circle cx="1574.3" cy="1172.7" r="5.1"/><circle cx="1580.9" cy="1145.6" r="5.1"/><circle cx="1587.5" cy="1135.9" r="5.1"/><circle cx="1594.1" cy="1177.1" r="5.1"/><circle cx="1600.7" cy="1223.9" r="5.1"/><circle cx="1607.3" cy="1119.3" r="5.1"/><circle cx="1613.9" cy="1118.4" r="5.1"/><circle cx="1620.5" cy="1100.0" r="5.1"/><circle cx="1627.1" cy="1170.6" r="5.1"/><circle cx="1633.7" cy="1198.2" r="5.1"/><circle cx="1640.3" cy="1101.2" r="5.1"/><circle cx="1646.9" cy="1148.2" r="5.1"/><circle cx="1653.5" cy="1108.7" r="5.1"/><circle cx="1660.1" cy="1102.6" r="5.1"/><circle cx="1666.7" cy="1232.0" r="5.1"/><circle cx="1673.3" cy="1157.8" r="5.1"/><circle cx="1680.0" cy="1120.5" r="5.1"/><circle cx="1686.6" cy="1147.3" r="5.1"/><circle cx="1693.2" cy="1175.9" r="5.1"/><circle cx="1699.8" cy="1191.1" r="5.1"/><circle cx="1706.4" cy="1154.3" r="5.1"/><circle cx="1713.0" cy="1158.7" r="5.1"/><circle cx="1719.6" cy="1160.8" r="5.1"/><circle cx="1726.2" cy="1204.3" r="5.1"/><circle cx="1732.8" cy="1261.3" r="5.1"/><circle cx="1739.4" cy="1168.9" r="5.1"/><circle cx="1746.0" cy="1103.0" r="5.1"/><circle cx="1752.6" cy="1124.5" r="5.1"/><circle cx="1759.2" cy="1143.3" r="5.1"/><circle cx="1765.8" cy="1244.3" r="5.1"/><circle cx="1772.4" cy="1131.5" r="5.1"/><circle cx="1779.0" cy="1115.8" r="5.1"/><circle cx="1785.6" cy="1107.9" r="5.1"/><circle cx="1792.3" cy="1156.6" r="5.1"/><circle cx="1798.9" cy="1291.1" r="5.1"/><circle cx="1805.5" cy="1144.3" r="5.1"/><circle cx="1812.1" cy="1114.0" r="5.1"/><circle cx="1818.7" cy="1102.6" r="5.1"/><circle cx="1825.3" cy="1165.7" r="5.1"/><circle cx="1831.9" cy="1203.4" r="5.1"/><circle cx="1838.5" cy="1172.7" r="5.1"/><circle cx="1845.1" cy="1133.3" r="5.1"/><circle cx="1851.7" cy="1171.0" r="5.1"/><circle cx="1858.3" cy="1204.6" r="5.1"/><circle cx="1864.9" cy="1287.1" r="5.1"/><circle cx="1871.5" cy="1209.9" r="5.1"/><circle cx="1878.1" cy="1123.6" r="5.1"/><circle cx="1884.7" cy="1153.4" r="5.1"/><circle cx="1891.3" cy="1178.3" r="5.1"/><circle cx="1898.0" cy="1244.3" r="5.1"/><circle cx="1904.6" cy="1185.0" r="5.1"/><circle cx="1911.2" cy="1167.1" r="5.1"/><circle cx="1917.8" cy="1179.4" r="5.1"/><circle cx="1924.4" cy="1219.7" r="5.1"/><circle cx="1931.0" cy="1188.5" r="5.1"/><circle cx="1937.6" cy="1167.8" r="5.1"/><circle cx="1944.2" cy="1142.6" r="5.1"/><circle cx="1950.8" cy="1172.7" r="5.1"/><circle cx="1957.4" cy="1175.9" r="5.1"/><circle cx="1964.0" cy="1228.0" r="5.1"/><circle cx="1970.6" cy="1189.9" r="5.1"/><circle cx="1977.2" cy="1136.8" r="5.1"/><circle cx="1983.8" cy="1137.7" r="5.1"/><circle cx="1990.4" cy="1186.8" r="5.1"/><circle cx="1997.0" cy="1265.3" r="5.1"/><circle cx="2003.7" cy="1175.9" r="5.1"/><circle cx="2010.3" cy="1152.0" r="5.1"/><circle cx="2016.9" cy="1191.1" r="5.1"/><circle cx="2023.5" cy="1187.6" r="5.1"/><circle cx="2030.1" cy="1252.5" r="5.1"/><circle cx="2036.7" cy="1193.8" r="5.1"/><circle cx="2043.3" cy="1208.7" r="5.1"/><circle cx="2049.9" cy="1170.1" r="5.1"/><circle cx="2056.5" cy="1213.1" r="5.1"/><circle cx="2063.1" cy="1287.1" r="5.1"/><circle cx="2069.7" cy="1182.4" r="5.1"/><circle cx="2076.3" cy="1164.3" r="5.1"/><circle cx="2082.9" cy="1164.8" r="5.1"/><circle cx="2089.5" cy="1195.2" r="5.1"/><circle cx="2096.1" cy="1262.5" r="5.1"/><circle cx="2102.7" cy="1184.1" r="5.1"/><circle cx="2109.4" cy="1181.5" r="5.1"/><circle cx="2116.0" cy="1167.1" r="5.1"/><circle cx="2122.6" cy="1215.7" r="5.1"/><circle cx="2129.2" cy="1203.4" r="5.1"/><circle cx="2135.8" cy="1181.2" r="5.1"/><circle cx="2142.4" cy="1174.8" r="5.1"/><circle cx="2149.0" cy="1181.2" r="5.1"/><circle cx="2155.6" cy="1205.7" r="5.1"/></g>
<g fill="none" stroke="#151a15" stroke-width="3.1"><circle cx="1303.4" cy="1612.7" r="5.1"/><circle cx="1310.0" cy="1626.9" r="5.1"/><circle cx="1316.6" cy="1637.1" r="5.1"/><circle cx="1323.2" cy="1635.1" r="5.1"/><circle cx="1329.8" cy="1624.9" r="5.1"/><circle cx="1336.4" cy="1620.8" r="5.1"/><circle cx="1343.0" cy="1618.8" r="5.1"/><circle cx="1349.6" cy="1626.9" r="5.1"/><circle cx="1356.2" cy="1623.9" r="5.1"/><circle cx="1362.9" cy="1633.1" r="5.1"/><circle cx="1369.5" cy="1632.0" r="5.1"/><circle cx="1376.1" cy="1620.8" r="5.1"/><circle cx="1382.7" cy="1630.0" r="5.1"/><circle cx="1389.3" cy="1631.0" r="5.1"/><circle cx="1395.9" cy="1638.2" r="5.1"/><circle cx="1402.5" cy="1611.6" r="5.1"/><circle cx="1409.1" cy="1625.9" r="5.1"/><circle cx="1415.7" cy="1624.9" r="5.1"/><circle cx="1422.3" cy="1623.9" r="5.1"/><circle cx="1428.9" cy="1628.0" r="5.1"/><circle cx="1435.5" cy="1620.8" r="5.1"/><circle cx="1442.1" cy="1631.0" r="5.1"/><circle cx="1448.7" cy="1633.1" r="5.1"/><circle cx="1455.3" cy="1633.1" r="5.1"/><circle cx="1461.9" cy="1624.9" r="5.1"/><circle cx="1468.6" cy="1616.7" r="5.1"/><circle cx="1475.2" cy="1633.1" r="5.1"/><circle cx="1481.8" cy="1634.1" r="5.1"/><circle cx="1488.4" cy="1631.0" r="5.1"/><circle cx="1495.0" cy="1632.0" r="5.1"/><circle cx="1501.6" cy="1622.9" r="5.1"/><circle cx="1508.2" cy="1614.7" r="5.1"/><circle cx="1514.8" cy="1622.9" r="5.1"/><circle cx="1521.4" cy="1631.0" r="5.1"/><circle cx="1528.0" cy="1626.9" r="5.1"/><circle cx="1534.6" cy="1613.7" r="5.1"/><circle cx="1541.2" cy="1612.7" r="5.1"/><circle cx="1547.8" cy="1621.8" r="5.1"/><circle cx="1554.4" cy="1624.9" r="5.1"/><circle cx="1561.0" cy="1610.6" r="5.1"/><circle cx="1567.6" cy="1617.8" r="5.1"/><circle cx="1574.3" cy="1617.8" r="5.1"/><circle cx="1580.9" cy="1631.0" r="5.1"/><circle cx="1587.5" cy="1636.1" r="5.1"/><circle cx="1594.1" cy="1631.0" r="5.1"/><circle cx="1600.7" cy="1608.6" r="5.1"/><circle cx="1607.3" cy="1623.9" r="5.1"/><circle cx="1613.9" cy="1633.1" r="5.1"/><circle cx="1620.5" cy="1624.9" r="5.1"/><circle cx="1627.1" cy="1631.0" r="5.1"/><circle cx="1633.7" cy="1620.8" r="5.1"/><circle cx="1640.3" cy="1620.8" r="5.1"/><circle cx="1646.9" cy="1623.9" r="5.1"/><circle cx="1653.5" cy="1624.9" r="5.1"/><circle cx="1660.1" cy="1622.9" r="5.1"/><circle cx="1666.7" cy="1610.6" r="5.1"/><circle cx="1673.3" cy="1622.9" r="5.1"/><circle cx="1680.0" cy="1628.0" r="5.1"/><circle cx="1686.6" cy="1631.0" r="5.1"/><circle cx="1693.2" cy="1623.9" r="5.1"/><circle cx="1699.8" cy="1616.7" r="5.1"/><circle cx="1706.4" cy="1625.9" r="5.1"/><circle cx="1713.0" cy="1628.0" r="5.1"/><circle cx="1719.6" cy="1625.9" r="5.1"/><circle cx="1726.2" cy="1633.1" r="5.1"/><circle cx="1732.8" cy="1617.8" r="5.1"/><circle cx="1739.4" cy="1628.0" r="5.1"/><circle cx="1746.0" cy="1628.0" r="5.1"/><circle cx="1752.6" cy="1615.7" r="5.1"/><circle cx="1759.2" cy="1630.0" r="5.1"/><circle cx="1765.8" cy="1631.0" r="5.1"/><circle cx="1772.4" cy="1622.9" r="5.1"/><circle cx="1779.0" cy="1634.1" r="5.1"/><circle cx="1785.6" cy="1631.0" r="5.1"/><circle cx="1792.3" cy="1615.7" r="5.1"/><circle cx="1798.9" cy="1619.8" r="5.1"/><circle cx="1805.5" cy="1629.0" r="5.1"/><circle cx="1812.1" cy="1631.0" r="5.1"/><circle cx="1818.7" cy="1633.1" r="5.1"/><circle cx="1825.3" cy="1632.0" r="5.1"/><circle cx="1831.9" cy="1619.8" r="5.1"/><circle cx="1838.5" cy="1629.0" r="5.1"/><circle cx="1845.1" cy="1635.1" r="5.1"/><circle cx="1851.7" cy="1632.0" r="5.1"/><circle cx="1858.3" cy="1633.1" r="5.1"/><circle cx="1864.9" cy="1619.8" r="5.1"/><circle cx="1871.5" cy="1611.6" r="5.1"/><circle cx="1878.1" cy="1624.9" r="5.1"/><circle cx="1884.7" cy="1632.0" r="5.1"/><circle cx="1891.3" cy="1623.9" r="5.1"/><circle cx="1898.0" cy="1618.8" r="5.1"/><circle cx="1904.6" cy="1628.0" r="5.1"/><circle cx="1911.2" cy="1634.1" r="5.1"/><circle cx="1917.8" cy="1620.8" r="5.1"/><circle cx="1924.4" cy="1622.9" r="5.1"/><circle cx="1931.0" cy="1618.8" r="5.1"/><circle cx="1937.6" cy="1629.0" r="5.1"/><circle cx="1944.2" cy="1631.2" r="5.1"/><circle cx="1950.8" cy="1635.7" r="5.1"/><circle cx="1957.4" cy="1629.0" r="5.1"/><circle cx="1964.0" cy="1617.8" r="5.1"/><circle cx="1970.6" cy="1621.2" r="5.1"/><circle cx="1977.2" cy="1632.3" r="5.1"/><circle cx="1983.8" cy="1636.8" r="5.1"/><circle cx="1990.4" cy="1624.5" r="5.1"/><circle cx="1997.0" cy="1612.3" r="5.1"/><circle cx="2003.7" cy="1626.8" r="5.1"/><circle cx="2010.3" cy="1630.1" r="5.1"/><circle cx="2016.9" cy="1629.0" r="5.1"/><circle cx="2023.5" cy="1615.6" r="5.1"/><circle cx="2030.1" cy="1626.8" r="5.1"/><circle cx="2036.7" cy="1617.8" r="5.1"/><circle cx="2043.3" cy="1626.8" r="5.1"/><circle cx="2049.9" cy="1625.6" r="5.1"/><circle cx="2056.5" cy="1604.5" r="5.1"/><circle cx="2063.1" cy="1616.7" r="5.1"/><circle cx="2069.7" cy="1629.0" r="5.1"/><circle cx="2076.3" cy="1629.0" r="5.1"/><circle cx="2082.9" cy="1629.0" r="5.1"/><circle cx="2089.5" cy="1621.2" r="5.1"/><circle cx="2096.1" cy="1631.2" r="5.1"/><circle cx="2102.7" cy="1631.2" r="5.1"/><circle cx="2109.4" cy="1625.6" r="5.1"/><circle cx="2116.0" cy="1612.3" r="5.1"/><circle cx="2122.6" cy="1617.8" r="5.1"/><circle cx="2129.2" cy="1626.8" r="5.1"/><circle cx="2135.8" cy="1627.9" r="5.1"/><circle cx="2142.4" cy="1624.5" r="5.1"/><circle cx="2149.0" cy="1627.9" r="5.1"/><circle cx="2155.6" cy="1626.8" r="5.1"/></g>
<g stroke="#e8959c" stroke-width="3.2"><line x1="1446.7" y1="1010.6" x2="1446.7" y2="1659.3"/><line x1="1514.5" y1="1010.6" x2="1514.5" y2="1659.3"/><line x1="1613.5" y1="1010.6" x2="1613.5" y2="1659.3"/><line x1="1681.0" y1="1010.6" x2="1681.0" y2="1659.3"/><line x1="1714.3" y1="1010.6" x2="1714.3" y2="1659.3"/><line x1="1813.3" y1="1010.6" x2="1813.3" y2="1659.3"/><line x1="1872.9" y1="1010.6" x2="1872.9" y2="1659.3"/><line x1="1938.1" y1="1010.6" x2="1938.1" y2="1659.3"/><line x1="2008.7" y1="1010.6" x2="2008.7" y2="1659.3"/><line x1="2074.4" y1="1010.6" x2="2074.4" y2="1659.3"/><line x1="2110.4" y1="1010.6" x2="2110.4" y2="1659.3"/></g>
<path d="M1337.2 1659.3v-5.5M1337.2 1010.6v5.5M1370.3 1659.3v-5.5M1370.3 1010.6v5.5M1403.3 1659.3v-9.5M1403.3 1010.6v9.5M1436.3 1659.3v-5.5M1436.3 1010.6v5.5M1469.4 1659.3v-5.5M1469.4 1010.6v5.5M1502.4 1659.3v-5.5M1502.4 1010.6v5.5M1535.4 1659.3v-5.5M1535.4 1010.6v5.5M1568.4 1659.3v-9.5M1568.4 1010.6v9.5M1601.5 1659.3v-5.5M1601.5 1010.6v5.5M1634.5 1659.3v-5.5M1634.5 1010.6v5.5M1667.5 1659.3v-5.5M1667.5 1010.6v5.5M1700.6 1659.3v-5.5M1700.6 1010.6v5.5M1733.6 1659.3v-9.5M1733.6 1010.6v9.5M1766.6 1659.3v-5.5M1766.6 1010.6v5.5M1799.7 1659.3v-5.5M1799.7 1010.6v5.5M1832.7 1659.3v-5.5M1832.7 1010.6v5.5M1865.7 1659.3v-5.5M1865.7 1010.6v5.5M1898.8 1659.3v-9.5M1898.8 1010.6v9.5M1931.8 1659.3v-5.5M1931.8 1010.6v5.5M1964.8 1659.3v-5.5M1964.8 1010.6v5.5M1997.8 1659.3v-5.5M1997.8 1010.6v5.5M2030.9 1659.3v-5.5M2030.9 1010.6v5.5M2063.9 1659.3v-9.5M2063.9 1010.6v9.5M2096.9 1659.3v-5.5M2096.9 1010.6v5.5M2130.0 1659.3v-5.5M2130.0 1010.6v5.5M1304.2 1633.4h5.5M2163.0 1633.4h-5.5M1304.2 1607.4h5.5M2163.0 1607.4h-5.5M1304.2 1581.5h5.5M2163.0 1581.5h-5.5M1304.2 1555.5h5.5M2163.0 1555.5h-5.5M1304.2 1529.6h9.5M2163.0 1529.6h-9.5M1304.2 1503.6h5.5M2163.0 1503.6h-5.5M1304.2 1477.7h5.5M2163.0 1477.7h-5.5M1304.2 1451.7h5.5M2163.0 1451.7h-5.5M1304.2 1425.8h5.5M2163.0 1425.8h-5.5M1304.2 1399.8h9.5M2163.0 1399.8h-9.5M1304.2 1373.9h5.5M2163.0 1373.9h-5.5M1304.2 1347.9h5.5M2163.0 1347.9h-5.5M1304.2 1322.0h5.5M2163.0 1322.0h-5.5M1304.2 1296.0h5.5M2163.0 1296.0h-5.5M1304.2 1270.1h9.5M2163.0 1270.1h-9.5M1304.2 1244.1h5.5M2163.0 1244.1h-5.5M1304.2 1218.2h5.5M2163.0 1218.2h-5.5M1304.2 1192.2h5.5M2163.0 1192.2h-5.5M1304.2 1166.3h5.5M2163.0 1166.3h-5.5M1304.2 1140.3h9.5M2163.0 1140.3h-9.5M1304.2 1114.4h5.5M2163.0 1114.4h-5.5M1304.2 1088.4h5.5M2163.0 1088.4h-5.5M1304.2 1062.5h5.5M2163.0 1062.5h-5.5M1304.2 1036.5h5.5M2163.0 1036.5h-5.5" stroke="#111" stroke-width="2.8" fill="none"/>
<rect x="1304.2" y="1010.6" width="858.8" height="648.7" fill="none" stroke="#111" stroke-width="2.8"/>
<g font-size="57"><text x="1288.2" y="1680.6" text-anchor="end">0</text><text x="1288.2" y="1550.9" text-anchor="end">0.2</text><text x="1288.2" y="1421.1" text-anchor="end">0.4</text><text x="1288.2" y="1291.4" text-anchor="end">0.6</text><text x="1288.2" y="1161.6" text-anchor="end">0.8</text><text x="1288.2" y="1031.9" text-anchor="end">1</text><text x="1403.8" y="1731.3" text-anchor="middle">1985</text><text x="1568.9" y="1731.3" text-anchor="middle">1990</text><text x="1734.1" y="1731.3" text-anchor="middle">1995</text><text x="1899.3" y="1731.3" text-anchor="middle">2000</text><text x="2064.4" y="1731.3" text-anchor="middle">2005</text></g>
<text x="1733.6" y="966.6" text-anchor="middle" font-size="57">TM Path 25 Row 29 # Sample 50</text>
<text transform="translate(1171.8,1335.0) rotate(-90)" text-anchor="middle" font-size="45.5">NDVI MJJAS|Std|</text>
</svg></body></html>
